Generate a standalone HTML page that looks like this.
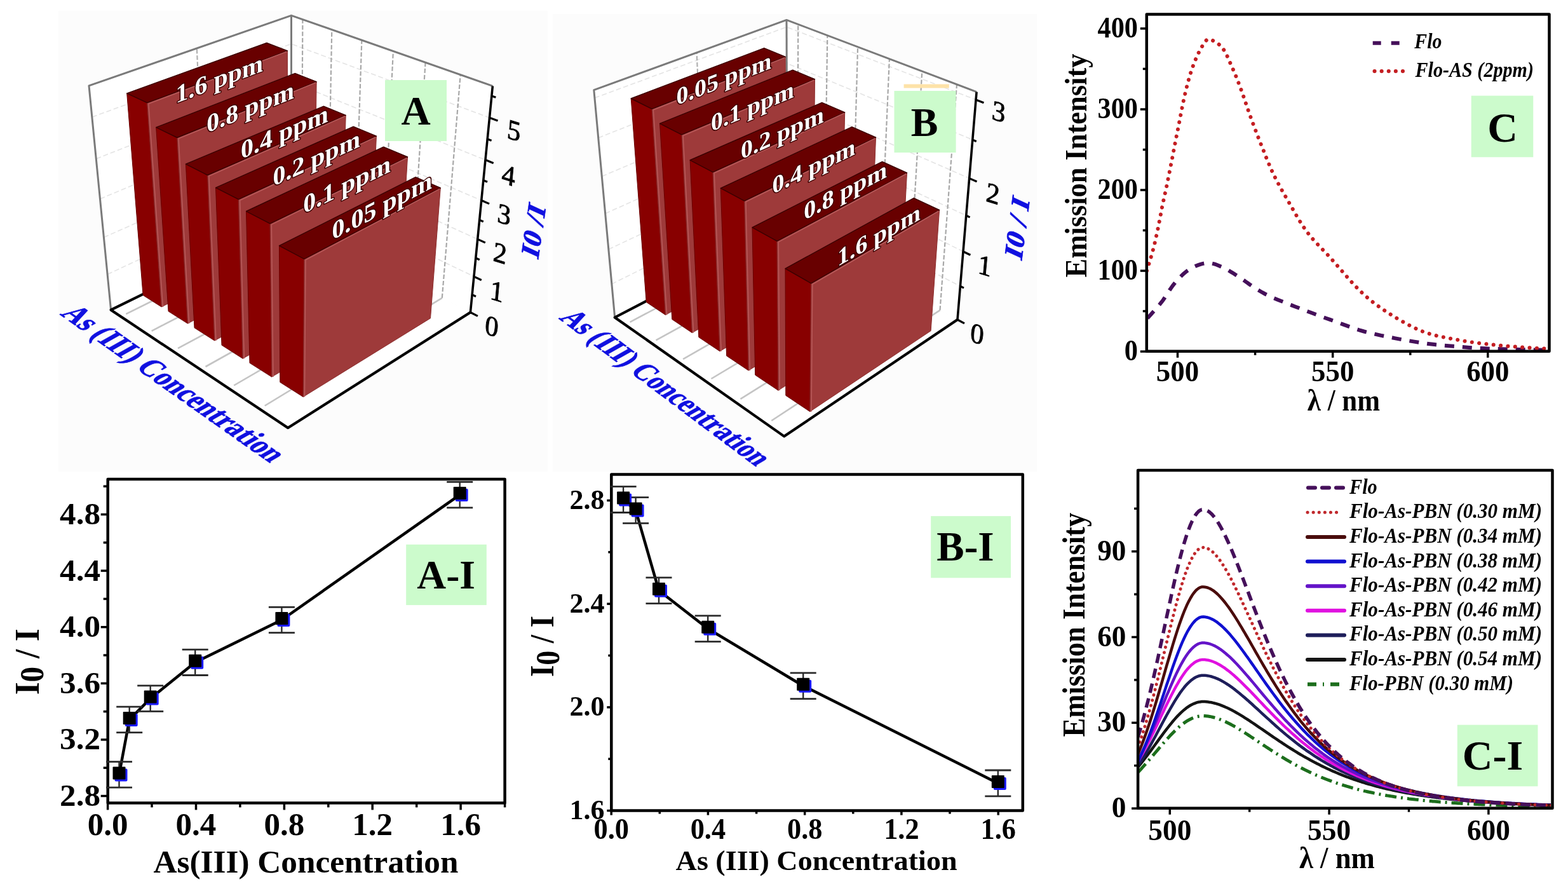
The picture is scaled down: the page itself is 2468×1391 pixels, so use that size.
<!DOCTYPE html>
<html><head><meta charset="utf-8"><title>Figure</title>
<style>html,body{margin:0;padding:0;background:#fff;} svg{display:block;} text{font-family:'Liberation Serif','Times New Roman',serif;}</style>
</head><body>
<svg xmlns="http://www.w3.org/2000/svg" width="2468" height="1391" viewBox="0 0 2468 1391">
<rect x="0" y="0" width="2468" height="1391" fill="#fff"/>
<line x1="158.7" y1="1252.5" x2="169.7" y2="1252.5" stroke="#000" stroke-width="3.5"/>
<line x1="162.7" y1="1208.2" x2="169.7" y2="1208.2" stroke="#000" stroke-width="3.5"/>
<line x1="158.7" y1="1163.9" x2="169.7" y2="1163.9" stroke="#000" stroke-width="3.5"/>
<line x1="162.7" y1="1119.6" x2="169.7" y2="1119.6" stroke="#000" stroke-width="3.5"/>
<line x1="158.7" y1="1075.3" x2="169.7" y2="1075.3" stroke="#000" stroke-width="3.5"/>
<line x1="162.7" y1="1031.0" x2="169.7" y2="1031.0" stroke="#000" stroke-width="3.5"/>
<line x1="158.7" y1="986.7" x2="169.7" y2="986.7" stroke="#000" stroke-width="3.5"/>
<line x1="162.7" y1="942.4" x2="169.7" y2="942.4" stroke="#000" stroke-width="3.5"/>
<line x1="158.7" y1="898.1" x2="169.7" y2="898.1" stroke="#000" stroke-width="3.5"/>
<line x1="162.7" y1="853.8" x2="169.7" y2="853.8" stroke="#000" stroke-width="3.5"/>
<line x1="158.7" y1="809.5" x2="169.7" y2="809.5" stroke="#000" stroke-width="3.5"/>
<line x1="162.7" y1="765.2" x2="169.7" y2="765.2" stroke="#000" stroke-width="3.5"/>
<line x1="169.6" y1="1263.4" x2="169.6" y2="1274.4" stroke="#000" stroke-width="3.5"/>
<line x1="239.0" y1="1263.4" x2="239.0" y2="1270.4" stroke="#000" stroke-width="3.5"/>
<line x1="308.5" y1="1263.4" x2="308.5" y2="1274.4" stroke="#000" stroke-width="3.5"/>
<line x1="377.9" y1="1263.4" x2="377.9" y2="1270.4" stroke="#000" stroke-width="3.5"/>
<line x1="447.4" y1="1263.4" x2="447.4" y2="1274.4" stroke="#000" stroke-width="3.5"/>
<line x1="516.8" y1="1263.4" x2="516.8" y2="1270.4" stroke="#000" stroke-width="3.5"/>
<line x1="586.2" y1="1263.4" x2="586.2" y2="1274.4" stroke="#000" stroke-width="3.5"/>
<line x1="655.7" y1="1263.4" x2="655.7" y2="1270.4" stroke="#000" stroke-width="3.5"/>
<line x1="725.1" y1="1263.4" x2="725.1" y2="1274.4" stroke="#000" stroke-width="3.5"/>
<line x1="794.6" y1="1263.4" x2="794.6" y2="1270.4" stroke="#000" stroke-width="3.5"/>
<rect x="169.7" y="754.0" width="624.9" height="509.4" fill="none" stroke="#000" stroke-width="4.5" stroke-linejoin="round"/>
<polyline points="187.5,1218.9 203.7,1132.4 236.7,1099.1 307.2,1042.3 443.4,975.5 723.7,778.6" fill="none" stroke="#000" stroke-width="4.5" stroke-linejoin="round"/>
<line x1="187.5" y1="1198.7" x2="187.5" y2="1239.1" stroke="#2a2a2a" stroke-width="2.4"/>
<line x1="167.0" y1="1198.7" x2="208.0" y2="1198.7" stroke="#2a2a2a" stroke-width="2.8"/>
<line x1="167.0" y1="1239.1" x2="208.0" y2="1239.1" stroke="#2a2a2a" stroke-width="2.8"/>
<line x1="203.7" y1="1112.2" x2="203.7" y2="1152.6" stroke="#2a2a2a" stroke-width="2.4"/>
<line x1="183.2" y1="1112.2" x2="224.2" y2="1112.2" stroke="#2a2a2a" stroke-width="2.8"/>
<line x1="183.2" y1="1152.6" x2="224.2" y2="1152.6" stroke="#2a2a2a" stroke-width="2.8"/>
<line x1="236.7" y1="1078.9" x2="236.7" y2="1119.3" stroke="#2a2a2a" stroke-width="2.4"/>
<line x1="216.2" y1="1078.9" x2="257.2" y2="1078.9" stroke="#2a2a2a" stroke-width="2.8"/>
<line x1="216.2" y1="1119.3" x2="257.2" y2="1119.3" stroke="#2a2a2a" stroke-width="2.8"/>
<line x1="307.2" y1="1022.1" x2="307.2" y2="1062.5" stroke="#2a2a2a" stroke-width="2.4"/>
<line x1="286.7" y1="1022.1" x2="327.7" y2="1022.1" stroke="#2a2a2a" stroke-width="2.8"/>
<line x1="286.7" y1="1062.5" x2="327.7" y2="1062.5" stroke="#2a2a2a" stroke-width="2.8"/>
<line x1="443.4" y1="955.3" x2="443.4" y2="995.7" stroke="#2a2a2a" stroke-width="2.4"/>
<line x1="422.9" y1="955.3" x2="463.9" y2="955.3" stroke="#2a2a2a" stroke-width="2.8"/>
<line x1="422.9" y1="995.7" x2="463.9" y2="995.7" stroke="#2a2a2a" stroke-width="2.8"/>
<line x1="723.7" y1="758.4" x2="723.7" y2="798.8" stroke="#2a2a2a" stroke-width="2.4"/>
<line x1="703.2" y1="758.4" x2="744.2" y2="758.4" stroke="#2a2a2a" stroke-width="2.8"/>
<line x1="703.2" y1="798.8" x2="744.2" y2="798.8" stroke="#2a2a2a" stroke-width="2.8"/>
<rect x="180.5" y="1209.4" width="20" height="20" rx="2" fill="#1a1aff"/>
<rect x="177.5" y="1206.4" width="20" height="20" rx="1" fill="#000"/>
<rect x="196.7" y="1122.9" width="20" height="20" rx="2" fill="#1a1aff"/>
<rect x="193.7" y="1119.9" width="20" height="20" rx="1" fill="#000"/>
<rect x="229.7" y="1089.6" width="20" height="20" rx="2" fill="#1a1aff"/>
<rect x="226.7" y="1086.6" width="20" height="20" rx="1" fill="#000"/>
<rect x="300.2" y="1032.8" width="20" height="20" rx="2" fill="#1a1aff"/>
<rect x="297.2" y="1029.8" width="20" height="20" rx="1" fill="#000"/>
<rect x="436.4" y="966.0" width="20" height="20" rx="2" fill="#1a1aff"/>
<rect x="433.4" y="963.0" width="20" height="20" rx="1" fill="#000"/>
<rect x="716.7" y="769.1" width="20" height="20" rx="2" fill="#1a1aff"/>
<rect x="713.7" y="766.1" width="20" height="20" rx="1" fill="#000"/>
<text x="158.0" y="1268.0" font-size="48" font-weight="bold" font-style="normal" fill="#000" text-anchor="end" textLength="63.9" lengthAdjust="spacingAndGlyphs">2.8</text>
<text x="158.0" y="1179.4" font-size="48" font-weight="bold" font-style="normal" fill="#000" text-anchor="end" textLength="63.9" lengthAdjust="spacingAndGlyphs">3.2</text>
<text x="158.0" y="1090.8" font-size="48" font-weight="bold" font-style="normal" fill="#000" text-anchor="end" textLength="63.9" lengthAdjust="spacingAndGlyphs">3.6</text>
<text x="158.0" y="1002.2" font-size="48" font-weight="bold" font-style="normal" fill="#000" text-anchor="end" textLength="63.9" lengthAdjust="spacingAndGlyphs">4.0</text>
<text x="158.0" y="913.6" font-size="48" font-weight="bold" font-style="normal" fill="#000" text-anchor="end" textLength="63.9" lengthAdjust="spacingAndGlyphs">4.4</text>
<text x="158.0" y="825.0" font-size="48" font-weight="bold" font-style="normal" fill="#000" text-anchor="end" textLength="63.9" lengthAdjust="spacingAndGlyphs">4.8</text>
<text x="169.6" y="1313.8" font-size="50" font-weight="bold" font-style="normal" fill="#000" text-anchor="middle" textLength="63.8" lengthAdjust="spacingAndGlyphs">0.0</text>
<text x="308.5" y="1313.8" font-size="50" font-weight="bold" font-style="normal" fill="#000" text-anchor="middle" textLength="63.8" lengthAdjust="spacingAndGlyphs">0.4</text>
<text x="447.4" y="1313.8" font-size="50" font-weight="bold" font-style="normal" fill="#000" text-anchor="middle" textLength="63.8" lengthAdjust="spacingAndGlyphs">0.8</text>
<text x="586.2" y="1313.8" font-size="50" font-weight="bold" font-style="normal" fill="#000" text-anchor="middle" textLength="63.8" lengthAdjust="spacingAndGlyphs">1.2</text>
<text x="725.1" y="1313.8" font-size="50" font-weight="bold" font-style="normal" fill="#000" text-anchor="middle" textLength="63.8" lengthAdjust="spacingAndGlyphs">1.6</text>
<rect x="639.2" y="856.8" width="126.6" height="95.3" fill="#ccfbcc" stroke="none" stroke-width="0"/>
<text x="702.2" y="925.5" font-size="63.5" font-weight="bold" font-style="normal" fill="#000" text-anchor="middle">A-I</text>
<text x="241.5" y="1372.9" font-size="50" font-weight="bold" font-style="normal" fill="#000" textLength="480.0" lengthAdjust="spacingAndGlyphs">As(III) Concentration</text>
<text transform="translate(61,1093.3) rotate(-90)" font-size="54" font-weight="bold" style="font-family:'Liberation Serif','Times New Roman',serif" textLength="104" lengthAdjust="spacingAndGlyphs">I<tspan font-size="52" dy="7">0</tspan><tspan dy="-7"> / I</tspan></text>
<line x1="955.3" y1="1275.6" x2="962.3" y2="1275.6" stroke="#000" stroke-width="3.5"/>
<line x1="957.3" y1="1194.2" x2="962.3" y2="1194.2" stroke="#000" stroke-width="3.5"/>
<line x1="955.3" y1="1112.9" x2="962.3" y2="1112.9" stroke="#000" stroke-width="3.5"/>
<line x1="957.3" y1="1031.5" x2="962.3" y2="1031.5" stroke="#000" stroke-width="3.5"/>
<line x1="955.3" y1="950.2" x2="962.3" y2="950.2" stroke="#000" stroke-width="3.5"/>
<line x1="957.3" y1="868.8" x2="962.3" y2="868.8" stroke="#000" stroke-width="3.5"/>
<line x1="955.3" y1="787.5" x2="962.3" y2="787.5" stroke="#000" stroke-width="3.5"/>
<line x1="962.2" y1="1275.6" x2="962.2" y2="1282.6" stroke="#000" stroke-width="3.5"/>
<line x1="1038.3" y1="1275.6" x2="1038.3" y2="1280.6" stroke="#000" stroke-width="3.5"/>
<line x1="1114.4" y1="1275.6" x2="1114.4" y2="1282.6" stroke="#000" stroke-width="3.5"/>
<line x1="1190.6" y1="1275.6" x2="1190.6" y2="1280.6" stroke="#000" stroke-width="3.5"/>
<line x1="1266.7" y1="1275.6" x2="1266.7" y2="1282.6" stroke="#000" stroke-width="3.5"/>
<line x1="1342.8" y1="1275.6" x2="1342.8" y2="1280.6" stroke="#000" stroke-width="3.5"/>
<line x1="1418.9" y1="1275.6" x2="1418.9" y2="1282.6" stroke="#000" stroke-width="3.5"/>
<line x1="1495.0" y1="1275.6" x2="1495.0" y2="1280.6" stroke="#000" stroke-width="3.5"/>
<line x1="1571.2" y1="1275.6" x2="1571.2" y2="1282.6" stroke="#000" stroke-width="3.5"/>
<rect x="962.3" y="746.5" width="647.5" height="529.1" fill="none" stroke="#000" stroke-width="4.5" stroke-linejoin="round"/>
<polyline points="981.1,786.1 1000.6,803.0 1037.0,929.2 1114.2,989.2 1264.2,1079.2 1570.8,1232.4" fill="none" stroke="#000" stroke-width="4.5" stroke-linejoin="round"/>
<line x1="981.1" y1="765.7" x2="981.1" y2="806.5" stroke="#2a2a2a" stroke-width="2.4"/>
<line x1="960.6" y1="765.7" x2="1001.6" y2="765.7" stroke="#2a2a2a" stroke-width="2.8"/>
<line x1="960.6" y1="806.5" x2="1001.6" y2="806.5" stroke="#2a2a2a" stroke-width="2.8"/>
<line x1="1000.6" y1="782.6" x2="1000.6" y2="823.4" stroke="#2a2a2a" stroke-width="2.4"/>
<line x1="980.1" y1="782.6" x2="1021.1" y2="782.6" stroke="#2a2a2a" stroke-width="2.8"/>
<line x1="980.1" y1="823.4" x2="1021.1" y2="823.4" stroke="#2a2a2a" stroke-width="2.8"/>
<line x1="1037.0" y1="908.8" x2="1037.0" y2="949.6" stroke="#2a2a2a" stroke-width="2.4"/>
<line x1="1016.5" y1="908.8" x2="1057.5" y2="908.8" stroke="#2a2a2a" stroke-width="2.8"/>
<line x1="1016.5" y1="949.6" x2="1057.5" y2="949.6" stroke="#2a2a2a" stroke-width="2.8"/>
<line x1="1114.2" y1="968.8" x2="1114.2" y2="1009.6" stroke="#2a2a2a" stroke-width="2.4"/>
<line x1="1093.7" y1="968.8" x2="1134.7" y2="968.8" stroke="#2a2a2a" stroke-width="2.8"/>
<line x1="1093.7" y1="1009.6" x2="1134.7" y2="1009.6" stroke="#2a2a2a" stroke-width="2.8"/>
<line x1="1264.2" y1="1058.8" x2="1264.2" y2="1099.6" stroke="#2a2a2a" stroke-width="2.4"/>
<line x1="1243.7" y1="1058.8" x2="1284.7" y2="1058.8" stroke="#2a2a2a" stroke-width="2.8"/>
<line x1="1243.7" y1="1099.6" x2="1284.7" y2="1099.6" stroke="#2a2a2a" stroke-width="2.8"/>
<line x1="1570.8" y1="1212.0" x2="1570.8" y2="1252.8" stroke="#2a2a2a" stroke-width="2.4"/>
<line x1="1550.3" y1="1212.0" x2="1591.3" y2="1212.0" stroke="#2a2a2a" stroke-width="2.8"/>
<line x1="1550.3" y1="1252.8" x2="1591.3" y2="1252.8" stroke="#2a2a2a" stroke-width="2.8"/>
<rect x="974.1" y="776.6" width="20" height="20" rx="2" fill="#1a1aff"/>
<rect x="971.1" y="773.6" width="20" height="20" rx="1" fill="#000"/>
<rect x="993.6" y="793.5" width="20" height="20" rx="2" fill="#1a1aff"/>
<rect x="990.6" y="790.5" width="20" height="20" rx="1" fill="#000"/>
<rect x="1030.0" y="919.7" width="20" height="20" rx="2" fill="#1a1aff"/>
<rect x="1027.0" y="916.7" width="20" height="20" rx="1" fill="#000"/>
<rect x="1107.2" y="979.7" width="20" height="20" rx="2" fill="#1a1aff"/>
<rect x="1104.2" y="976.7" width="20" height="20" rx="1" fill="#000"/>
<rect x="1257.2" y="1069.7" width="20" height="20" rx="2" fill="#1a1aff"/>
<rect x="1254.2" y="1066.7" width="20" height="20" rx="1" fill="#000"/>
<rect x="1563.8" y="1222.9" width="20" height="20" rx="2" fill="#1a1aff"/>
<rect x="1560.8" y="1219.9" width="20" height="20" rx="1" fill="#000"/>
<text x="951.5" y="1289.0" font-size="44" font-weight="bold" font-style="normal" fill="#000" text-anchor="end" textLength="55.0" lengthAdjust="spacingAndGlyphs">1.6</text>
<text x="951.5" y="1126.3" font-size="44" font-weight="bold" font-style="normal" fill="#000" text-anchor="end" textLength="55.0" lengthAdjust="spacingAndGlyphs">2.0</text>
<text x="951.5" y="963.6" font-size="44" font-weight="bold" font-style="normal" fill="#000" text-anchor="end" textLength="55.0" lengthAdjust="spacingAndGlyphs">2.4</text>
<text x="951.5" y="800.9" font-size="44" font-weight="bold" font-style="normal" fill="#000" text-anchor="end" textLength="55.0" lengthAdjust="spacingAndGlyphs">2.8</text>
<text x="962.2" y="1320.3" font-size="47" font-weight="bold" font-style="normal" fill="#000" text-anchor="middle" textLength="55.5" lengthAdjust="spacingAndGlyphs">0.0</text>
<text x="1114.4" y="1320.3" font-size="47" font-weight="bold" font-style="normal" fill="#000" text-anchor="middle" textLength="55.5" lengthAdjust="spacingAndGlyphs">0.4</text>
<text x="1266.7" y="1320.3" font-size="47" font-weight="bold" font-style="normal" fill="#000" text-anchor="middle" textLength="55.5" lengthAdjust="spacingAndGlyphs">0.8</text>
<text x="1418.9" y="1320.3" font-size="47" font-weight="bold" font-style="normal" fill="#000" text-anchor="middle" textLength="55.5" lengthAdjust="spacingAndGlyphs">1.2</text>
<text x="1571.2" y="1320.3" font-size="47" font-weight="bold" font-style="normal" fill="#000" text-anchor="middle" textLength="55.5" lengthAdjust="spacingAndGlyphs">1.6</text>
<rect x="1465.2" y="812.1" width="125.8" height="97.2" fill="#ccfbcc" stroke="none" stroke-width="0"/>
<text x="1519.5" y="881.6" font-size="65" font-weight="bold" font-style="normal" fill="#000" text-anchor="middle">B-I</text>
<text x="1063.6" y="1368.6" font-size="45" font-weight="bold" font-style="normal" fill="#000" textLength="443.0" lengthAdjust="spacingAndGlyphs">As (III) Concentration</text>
<text transform="translate(870.5,1065) rotate(-90)" font-size="53" font-weight="bold" style="font-family:'Liberation Serif','Times New Roman',serif" textLength="96" lengthAdjust="spacingAndGlyphs">I<tspan font-size="52" dy="9">0</tspan><tspan dy="-9"> / I</tspan></text>
<line x1="1794.8" y1="553.1" x2="1804.8" y2="553.1" stroke="#000" stroke-width="3.5"/>
<line x1="1798.8" y1="489.6" x2="1804.8" y2="489.6" stroke="#000" stroke-width="3.5"/>
<line x1="1794.8" y1="426.1" x2="1804.8" y2="426.1" stroke="#000" stroke-width="3.5"/>
<line x1="1798.8" y1="362.5" x2="1804.8" y2="362.5" stroke="#000" stroke-width="3.5"/>
<line x1="1794.8" y1="299.0" x2="1804.8" y2="299.0" stroke="#000" stroke-width="3.5"/>
<line x1="1798.8" y1="235.5" x2="1804.8" y2="235.5" stroke="#000" stroke-width="3.5"/>
<line x1="1794.8" y1="172.0" x2="1804.8" y2="172.0" stroke="#000" stroke-width="3.5"/>
<line x1="1798.8" y1="108.4" x2="1804.8" y2="108.4" stroke="#000" stroke-width="3.5"/>
<line x1="1794.8" y1="44.9" x2="1804.8" y2="44.9" stroke="#000" stroke-width="3.5"/>
<line x1="1853.5" y1="552.8" x2="1853.5" y2="562.8" stroke="#000" stroke-width="3.5"/>
<line x1="1975.6" y1="552.8" x2="1975.6" y2="558.8" stroke="#000" stroke-width="3.5"/>
<line x1="2097.7" y1="552.8" x2="2097.7" y2="562.8" stroke="#000" stroke-width="3.5"/>
<line x1="2219.8" y1="552.8" x2="2219.8" y2="558.8" stroke="#000" stroke-width="3.5"/>
<line x1="2341.8" y1="552.8" x2="2341.8" y2="562.8" stroke="#000" stroke-width="3.5"/>
<clipPath id="clipC"><rect x="1806" y="24" width="631" height="527"/></clipPath>
<g clip-path="url(#clipC)">
<path d="M1806.1,500.8 L1807.8,498.8 L1810.2,496.3 L1812.9,493.2 L1816.0,489.8 L1819.2,486.2 L1822.5,482.4 L1825.6,478.7 L1828.4,475.2 L1831.0,471.7 L1833.5,468.0 L1836.0,464.3 L1838.4,460.5 L1840.8,456.7 L1843.3,453.1 L1845.8,449.5 L1848.5,446.2 L1851.2,443.0 L1854.0,439.9 L1856.8,436.8 L1859.7,433.9 L1862.7,431.1 L1865.7,428.5 L1868.7,426.1 L1871.9,423.9 L1875.2,421.9 L1878.6,420.1 L1882.2,418.5 L1885.8,417.1 L1889.4,415.9 L1893.0,414.9 L1896.4,414.3 L1899.8,413.9 L1903.0,413.9 L1906.2,414.2 L1909.2,414.9 L1912.3,415.7 L1915.3,416.8 L1918.3,418.0 L1921.3,419.3 L1924.3,420.6 L1927.4,422.0 L1930.4,423.6 L1933.5,425.3 L1936.5,427.2 L1939.6,429.1 L1942.7,431.1 L1945.7,433.0 L1948.8,435.0 L1951.9,437.0 L1954.9,439.1 L1958.0,441.2 L1961.0,443.4 L1964.1,445.5 L1967.1,447.7 L1970.3,449.8 L1973.4,451.8 L1976.4,453.7 L1979.2,455.5 L1981.9,457.2 L1984.8,459.0 L1987.8,460.7 L1991.1,462.5 L1995.0,464.5 L1999.5,466.6 L2004.8,468.9 L2010.7,471.4 L2017.2,474.0 L2024.0,476.7 L2030.9,479.5 L2037.9,482.2 L2044.8,484.8 L2051.3,487.3 L2057.5,489.7 L2063.7,492.0 L2069.7,494.3 L2075.7,496.6 L2081.8,498.8 L2087.9,501.0 L2094.1,503.2 L2100.5,505.5 L2106.9,507.8 L2113.1,510.1 L2119.4,512.4 L2125.8,514.7 L2132.4,517.0 L2139.4,519.3 L2146.8,521.5 L2154.9,523.6 L2163.9,525.7 L2173.7,527.9 L2184.2,530.0 L2195.0,532.1 L2205.7,534.1 L2216.2,536.0 L2226.1,537.6 L2235.1,539.1 L2243.2,540.3 L2250.7,541.3 L2257.7,542.1 L2264.4,542.8 L2270.8,543.4 L2277.1,543.9 L2283.5,544.4 L2290.0,545.0 L2296.2,545.6 L2301.9,546.1 L2307.4,546.5 L2312.9,547.0 L2318.7,547.4 L2325.1,547.8 L2332.5,548.1 L2341.0,548.5 L2351.6,548.9 L2364.3,549.3 L2378.3,549.6 L2392.7,550.0 L2406.7,550.3 L2419.5,550.6 L2430.2,550.8 L2438.0,551.0" fill="none" stroke="#45105a" stroke-width="6" stroke-dasharray="15 13" />
<path d="M1805.0,426.1 L1805.8,423.5 L1806.8,420.1 L1808.1,416.1 L1809.5,411.6 L1811.0,406.8 L1812.4,401.9 L1813.8,397.2 L1815.0,392.7 L1816.1,388.4 L1817.2,384.1 L1818.2,379.8 L1819.2,375.5 L1820.1,371.1 L1821.1,366.8 L1822.0,362.4 L1822.9,358.1 L1823.8,353.8 L1824.6,349.4 L1825.5,345.1 L1826.3,340.8 L1827.1,336.5 L1827.9,332.2 L1828.7,327.9 L1829.6,323.6 L1830.5,319.4 L1831.4,315.1 L1832.3,310.9 L1833.3,306.7 L1834.2,302.5 L1835.1,298.4 L1836.0,294.2 L1836.9,290.0 L1837.7,285.9 L1838.5,281.9 L1839.3,278.0 L1840.1,274.1 L1840.9,270.1 L1841.7,265.9 L1842.6,261.4 L1843.5,256.7 L1844.5,251.8 L1845.5,246.7 L1846.5,241.5 L1847.5,236.1 L1848.6,230.5 L1849.8,224.5 L1851.0,218.2 L1852.4,211.4 L1853.9,203.9 L1855.5,195.7 L1857.2,187.0 L1858.9,178.0 L1860.7,169.0 L1862.5,160.2 L1864.3,152.0 L1866.0,144.5 L1867.7,137.7 L1869.3,131.3 L1871.0,125.2 L1872.6,119.5 L1874.3,114.1 L1876.0,108.8 L1877.8,103.8 L1879.6,98.9 L1881.6,94.1 L1883.7,89.3 L1885.8,84.7 L1888.0,80.3 L1890.2,76.3 L1892.3,72.6 L1894.2,69.5 L1896.0,66.9 L1897.5,64.9 L1898.7,63.5 L1899.8,62.5 L1900.8,61.9 L1901.8,61.7 L1902.9,61.8 L1904.2,62.1 L1905.8,62.6 L1907.7,63.3 L1909.9,64.2 L1912.2,65.4 L1914.6,66.9 L1917.1,68.6 L1919.6,70.7 L1922.0,73.0 L1924.2,75.6 L1926.3,78.6 L1928.3,82.0 L1930.3,85.8 L1932.3,89.8 L1934.2,94.0 L1936.0,98.3 L1937.9,102.6 L1939.7,106.7 L1941.5,110.7 L1943.2,114.7 L1944.9,118.7 L1946.5,122.8 L1948.1,127.0 L1949.8,131.3 L1951.5,135.8 L1953.3,140.6 L1955.1,145.7 L1957.0,151.0 L1958.9,156.5 L1960.8,162.2 L1962.8,167.9 L1964.7,173.7 L1966.8,179.5 L1968.8,185.2 L1970.9,190.9 L1973.0,196.6 L1975.2,202.3 L1977.3,208.0 L1979.5,213.8 L1981.8,219.5 L1984.0,225.2 L1986.3,230.9 L1988.6,236.5 L1990.8,242.2 L1993.0,247.8 L1995.3,253.3 L1997.6,258.9 L2000.0,264.5 L2002.5,270.1 L2005.2,275.8 L2008.1,281.5 L2011.1,287.2 L2014.2,293.0 L2017.4,298.8 L2020.7,304.6 L2024.0,310.3 L2027.3,316.0 L2030.6,321.7 L2033.8,327.3 L2037.0,332.9 L2040.2,338.5 L2043.4,344.0 L2046.8,349.5 L2050.2,354.9 L2053.9,360.3 L2057.8,365.7 L2061.9,370.9 L2066.2,376.0 L2070.7,381.0 L2075.3,385.9 L2080.1,390.9 L2085.0,396.1 L2090.1,401.4 L2095.3,407.1 L2100.7,413.2 L2106.4,419.8 L2112.3,426.6 L2118.4,433.6 L2124.4,440.4 L2130.4,447.1 L2136.3,453.3 L2141.9,458.9 L2147.2,463.9 L2152.3,468.4 L2157.2,472.6 L2162.1,476.4 L2167.1,480.1 L2172.2,483.8 L2177.5,487.4 L2183.3,491.2 L2189.5,495.2 L2196.0,499.2 L2202.8,503.3 L2209.8,507.3 L2216.9,511.2 L2223.9,514.8 L2230.9,518.1 L2237.7,521.0 L2244.3,523.5 L2251.0,525.6 L2257.5,527.3 L2264.1,528.9 L2270.6,530.3 L2277.1,531.5 L2283.5,532.8 L2290.0,534.0 L2296.5,535.2 L2302.9,536.3 L2309.3,537.3 L2315.7,538.3 L2322.1,539.1 L2328.4,540.0 L2334.7,540.7 L2341.0,541.5 L2347.2,542.2 L2353.4,542.9 L2359.6,543.5 L2365.7,544.0 L2371.8,544.6 L2377.9,545.1 L2383.9,545.5 L2390.0,546.0 L2396.4,546.5 L2403.2,546.9 L2410.2,547.4 L2417.1,547.8 L2423.6,548.2 L2429.4,548.5 L2434.3,548.8 L2438.0,549.0" fill="none" stroke="#c41e22" stroke-width="6" stroke-dasharray="0.1 11.3" stroke-linecap="round"/>
</g>
<rect x="1804.8" y="22.4" width="633.7" height="530.4" fill="none" stroke="#000" stroke-width="4.5" stroke-linejoin="round"/>
<text x="1791.0" y="566.9" font-size="46" font-weight="bold" font-style="normal" fill="#000" text-anchor="end" textLength="21.2" lengthAdjust="spacingAndGlyphs">0</text>
<text x="1791.0" y="439.9" font-size="46" font-weight="bold" font-style="normal" fill="#000" text-anchor="end" textLength="63.5" lengthAdjust="spacingAndGlyphs">100</text>
<text x="1791.0" y="312.8" font-size="46" font-weight="bold" font-style="normal" fill="#000" text-anchor="end" textLength="63.5" lengthAdjust="spacingAndGlyphs">200</text>
<text x="1791.0" y="185.8" font-size="46" font-weight="bold" font-style="normal" fill="#000" text-anchor="end" textLength="63.5" lengthAdjust="spacingAndGlyphs">300</text>
<text x="1791.0" y="58.7" font-size="46" font-weight="bold" font-style="normal" fill="#000" text-anchor="end" textLength="63.5" lengthAdjust="spacingAndGlyphs">400</text>
<text x="1853.5" y="600.3" font-size="47" font-weight="bold" font-style="normal" fill="#000" text-anchor="middle" textLength="67.3" lengthAdjust="spacingAndGlyphs">500</text>
<text x="2097.7" y="600.3" font-size="47" font-weight="bold" font-style="normal" fill="#000" text-anchor="middle" textLength="67.3" lengthAdjust="spacingAndGlyphs">550</text>
<text x="2341.8" y="600.3" font-size="47" font-weight="bold" font-style="normal" fill="#000" text-anchor="middle" textLength="67.3" lengthAdjust="spacingAndGlyphs">600</text>
<line x1="2160.7" y1="67.7" x2="2203.2" y2="67.7" stroke="#45105a" stroke-width="6" stroke-dasharray="13 16"/>
<line x1="2163.5" y1="112.0" x2="2212.3" y2="112.0" stroke="#c41e22" stroke-width="6" stroke-dasharray="0.1 11" stroke-linecap="round"/>
<text x="2226.3" y="76.2" font-size="33" font-weight="bold" font-style="italic" fill="#000" textLength="43.0" lengthAdjust="spacingAndGlyphs">Flo</text>
<text x="2227.5" y="120.6" font-size="33" font-weight="bold" font-style="italic" fill="#000" textLength="186.5" lengthAdjust="spacingAndGlyphs">Flo-AS (2ppm)</text>
<rect x="2315.7" y="150.6" width="97.6" height="96.7" fill="#ccfbcc" stroke="none" stroke-width="0"/>
<text x="2365.0" y="222.5" font-size="66" font-weight="bold" font-style="normal" fill="#000" text-anchor="middle">C</text>
<text x="2057.8" y="646.2" font-size="48" font-weight="bold" font-style="normal" fill="#000" textLength="114.3" lengthAdjust="spacingAndGlyphs">λ / nm</text>
<text transform="translate(1710,436.5) rotate(-90)" font-size="49" font-weight="bold" textLength="352" lengthAdjust="spacingAndGlyphs">Emission Intensity</text>
<line x1="1781.1" y1="1272.1" x2="1791.1" y2="1272.1" stroke="#000" stroke-width="3.5"/>
<line x1="1785.1" y1="1204.7" x2="1791.1" y2="1204.7" stroke="#000" stroke-width="3.5"/>
<line x1="1781.1" y1="1137.3" x2="1791.1" y2="1137.3" stroke="#000" stroke-width="3.5"/>
<line x1="1785.1" y1="1069.9" x2="1791.1" y2="1069.9" stroke="#000" stroke-width="3.5"/>
<line x1="1781.1" y1="1002.5" x2="1791.1" y2="1002.5" stroke="#000" stroke-width="3.5"/>
<line x1="1785.1" y1="935.1" x2="1791.1" y2="935.1" stroke="#000" stroke-width="3.5"/>
<line x1="1781.1" y1="867.7" x2="1791.1" y2="867.7" stroke="#000" stroke-width="3.5"/>
<line x1="1785.1" y1="800.3" x2="1791.1" y2="800.3" stroke="#000" stroke-width="3.5"/>
<line x1="1841.3" y1="1271.7" x2="1841.3" y2="1281.7" stroke="#000" stroke-width="3.5"/>
<line x1="1966.7" y1="1271.7" x2="1966.7" y2="1277.7" stroke="#000" stroke-width="3.5"/>
<line x1="2092.1" y1="1271.7" x2="2092.1" y2="1281.7" stroke="#000" stroke-width="3.5"/>
<line x1="2217.5" y1="1271.7" x2="2217.5" y2="1277.7" stroke="#000" stroke-width="3.5"/>
<line x1="2342.9" y1="1271.7" x2="2342.9" y2="1281.7" stroke="#000" stroke-width="3.5"/>
<clipPath id="clipD"><rect x="1793" y="742" width="648" height="528"/></clipPath>
<g clip-path="url(#clipD)">
<path d="M1791.1,1215.3 L1793.6,1212.7 L1796.1,1210.0 L1798.6,1207.2 L1801.1,1204.4 L1803.6,1201.6 L1806.1,1198.7 L1808.7,1195.8 L1811.2,1192.9 L1813.7,1190.0 L1816.2,1187.0 L1818.7,1184.0 L1821.2,1181.1 L1823.7,1178.1 L1826.2,1175.1 L1828.7,1172.2 L1831.2,1169.3 L1833.7,1166.4 L1836.2,1163.6 L1838.8,1160.9 L1841.3,1158.1 L1843.8,1155.5 L1846.3,1152.9 L1848.8,1150.4 L1851.3,1148.0 L1853.8,1145.7 L1856.3,1143.5 L1858.8,1141.4 L1861.3,1139.4 L1863.8,1137.6 L1866.3,1135.8 L1868.8,1134.2 L1871.4,1132.8 L1873.9,1131.5 L1876.4,1130.3 L1878.9,1129.3 L1881.4,1128.4 L1883.9,1127.7 L1886.4,1127.2 L1888.9,1126.8 L1891.4,1126.6 L1893.9,1126.5 L1896.4,1126.6 L1898.9,1126.8 L1901.5,1127.1 L1904.0,1127.4 L1906.5,1127.9 L1909.0,1128.5 L1911.5,1129.1 L1914.0,1129.8 L1916.5,1130.7 L1919.0,1131.5 L1921.5,1132.5 L1924.0,1133.5 L1926.5,1134.6 L1929.0,1135.7 L1931.5,1136.9 L1934.1,1138.2 L1936.6,1139.5 L1939.1,1140.9 L1941.6,1142.2 L1944.1,1143.7 L1946.6,1145.1 L1949.1,1146.6 L1951.6,1148.2 L1954.1,1149.7 L1956.6,1151.3 L1959.1,1152.9 L1961.6,1154.5 L1964.2,1156.2 L1966.7,1157.8 L1969.2,1159.5 L1971.7,1161.1 L1974.2,1162.8 L1976.7,1164.5 L1979.2,1166.2 L1981.7,1167.8 L1984.2,1169.5 L1986.7,1171.2 L1989.2,1172.9 L1991.7,1174.5 L1994.2,1176.2 L1996.8,1177.8 L1999.3,1179.5 L2001.8,1181.1 L2004.3,1182.7 L2006.8,1184.3 L2009.3,1185.9 L2011.8,1187.5 L2014.3,1189.1 L2016.8,1190.6 L2019.3,1192.1 L2021.8,1193.7 L2024.3,1195.2 L2026.9,1196.6 L2029.4,1198.1 L2031.9,1199.5 L2034.4,1200.9 L2036.9,1202.3 L2039.4,1203.7 L2041.9,1205.1 L2044.4,1206.4 L2046.9,1207.7 L2049.4,1209.0 L2051.9,1210.3 L2054.4,1211.6 L2056.9,1212.8 L2059.5,1214.0 L2062.0,1215.2 L2064.5,1216.4 L2067.0,1217.5 L2069.5,1218.6 L2072.0,1219.8 L2074.5,1220.8 L2077.0,1221.9 L2079.5,1223.0 L2082.0,1224.0 L2084.5,1225.0 L2087.0,1226.0 L2089.6,1227.0 L2092.1,1227.9 L2094.6,1228.8 L2097.1,1229.8 L2099.6,1230.7 L2102.1,1231.5 L2104.6,1232.4 L2107.1,1233.2 L2109.6,1234.1 L2112.1,1234.9 L2114.6,1235.7 L2117.1,1236.4 L2119.6,1237.2 L2122.2,1237.9 L2124.7,1238.7 L2127.2,1239.4 L2129.7,1240.1 L2132.2,1240.8 L2134.7,1241.4 L2137.2,1242.1 L2139.7,1242.7 L2142.2,1243.3 L2144.7,1244.0 L2147.2,1244.6 L2149.7,1245.1 L2152.3,1245.7 L2154.8,1246.3 L2157.3,1246.8 L2159.8,1247.3 L2162.3,1247.9 L2164.8,1248.4 L2167.3,1248.9 L2169.8,1249.4 L2172.3,1249.9 L2174.8,1250.3 L2177.3,1250.8 L2179.8,1251.2 L2182.3,1251.7 L2184.9,1252.1 L2187.4,1252.5 L2189.9,1252.9 L2192.4,1253.3 L2194.9,1253.7 L2197.4,1254.1 L2199.9,1254.5 L2202.4,1254.8 L2204.9,1255.2 L2207.4,1255.5 L2209.9,1255.9 L2212.4,1256.2 L2215.0,1256.5 L2217.5,1256.9 L2220.0,1257.2 L2222.5,1257.5 L2225.0,1257.8 L2227.5,1258.1 L2230.0,1258.3 L2232.5,1258.6 L2235.0,1258.9 L2237.5,1259.2 L2240.0,1259.4 L2242.5,1259.7 L2245.0,1259.9 L2247.6,1260.2 L2250.1,1260.4 L2252.6,1260.6 L2255.1,1260.9 L2257.6,1261.1 L2260.1,1261.3 L2262.6,1261.5 L2265.1,1261.7 L2267.6,1261.9 L2270.1,1262.1 L2272.6,1262.3 L2275.1,1262.5 L2277.7,1262.7 L2280.2,1262.9 L2282.7,1263.1 L2285.2,1263.2 L2287.7,1263.4 L2290.2,1263.6 L2292.7,1263.7 L2295.2,1263.9 L2297.7,1264.0 L2300.2,1264.2 L2302.7,1264.3 L2305.2,1264.5 L2307.7,1264.6 L2310.3,1264.8 L2312.8,1264.9 L2315.3,1265.0 L2317.8,1265.2 L2320.3,1265.3 L2322.8,1265.4 L2325.3,1265.6 L2327.8,1265.7 L2330.3,1265.8 L2332.8,1265.9 L2335.3,1266.0 L2337.8,1266.1 L2340.4,1266.2 L2342.9,1266.3 L2345.4,1266.5 L2347.9,1266.6 L2350.4,1266.7 L2352.9,1266.8 L2355.4,1266.8 L2357.9,1266.9 L2360.4,1267.0 L2362.9,1267.1 L2365.4,1267.2 L2367.9,1267.3 L2370.4,1267.4 L2373.0,1267.5 L2375.5,1267.5 L2378.0,1267.6 L2380.5,1267.7 L2383.0,1267.8 L2385.5,1267.9 L2388.0,1267.9 L2390.5,1268.0 L2393.0,1268.1 L2395.5,1268.1 L2398.0,1268.2 L2400.5,1268.3 L2403.1,1268.3 L2405.6,1268.4 L2408.1,1268.5 L2410.6,1268.5 L2413.1,1268.6 L2415.6,1268.6 L2418.1,1268.7 L2420.6,1268.8 L2423.1,1268.8 L2425.6,1268.9 L2428.1,1268.9 L2430.6,1269.0 L2433.1,1269.0 L2435.7,1269.1 L2438.2,1269.1 L2440.7,1269.2 L2443.2,1269.2" fill="none" stroke="#1c6e1c" stroke-width="5" stroke-dasharray="18 7 3 7" stroke-linejoin="round"/>
<path d="M1791.1,1207.3 L1793.6,1204.2 L1796.1,1201.1 L1798.6,1197.9 L1801.1,1194.7 L1803.6,1191.4 L1806.1,1188.1 L1808.7,1184.7 L1811.2,1181.3 L1813.7,1177.9 L1816.2,1174.5 L1818.7,1171.0 L1821.2,1167.6 L1823.7,1164.1 L1826.2,1160.7 L1828.7,1157.3 L1831.2,1153.9 L1833.7,1150.6 L1836.2,1147.3 L1838.8,1144.1 L1841.3,1140.9 L1843.8,1137.8 L1846.3,1134.8 L1848.8,1131.9 L1851.3,1129.1 L1853.8,1126.4 L1856.3,1123.9 L1858.8,1121.4 L1861.3,1119.1 L1863.8,1116.9 L1866.3,1114.9 L1868.8,1113.0 L1871.4,1111.3 L1873.9,1109.8 L1876.4,1108.5 L1878.9,1107.3 L1881.4,1106.3 L1883.9,1105.4 L1886.4,1104.8 L1888.9,1104.4 L1891.4,1104.1 L1893.9,1104.1 L1896.4,1104.1 L1898.9,1104.3 L1901.5,1104.6 L1904.0,1104.9 L1906.5,1105.3 L1909.0,1105.9 L1911.5,1106.5 L1914.0,1107.1 L1916.5,1107.9 L1919.0,1108.7 L1921.5,1109.6 L1924.0,1110.6 L1926.5,1111.6 L1929.0,1112.7 L1931.5,1113.8 L1934.1,1115.0 L1936.6,1116.3 L1939.1,1117.5 L1941.6,1118.9 L1944.1,1120.3 L1946.6,1121.7 L1949.1,1123.1 L1951.6,1124.6 L1954.1,1126.1 L1956.6,1127.7 L1959.1,1129.3 L1961.6,1130.9 L1964.2,1132.5 L1966.7,1134.1 L1969.2,1135.8 L1971.7,1137.5 L1974.2,1139.2 L1976.7,1140.9 L1979.2,1142.6 L1981.7,1144.3 L1984.2,1146.0 L1986.7,1147.7 L1989.2,1149.4 L1991.7,1151.2 L1994.2,1152.9 L1996.8,1154.6 L1999.3,1156.4 L2001.8,1158.1 L2004.3,1159.8 L2006.8,1161.5 L2009.3,1163.2 L2011.8,1164.9 L2014.3,1166.6 L2016.8,1168.2 L2019.3,1169.9 L2021.8,1171.5 L2024.3,1173.2 L2026.9,1174.8 L2029.4,1176.4 L2031.9,1178.0 L2034.4,1179.5 L2036.9,1181.1 L2039.4,1182.6 L2041.9,1184.2 L2044.4,1185.7 L2046.9,1187.2 L2049.4,1188.6 L2051.9,1190.1 L2054.4,1191.5 L2056.9,1192.9 L2059.5,1194.3 L2062.0,1195.7 L2064.5,1197.1 L2067.0,1198.4 L2069.5,1199.8 L2072.0,1201.1 L2074.5,1202.3 L2077.0,1203.6 L2079.5,1204.9 L2082.0,1206.1 L2084.5,1207.3 L2087.0,1208.5 L2089.6,1209.7 L2092.1,1210.8 L2094.6,1212.0 L2097.1,1213.1 L2099.6,1214.2 L2102.1,1215.2 L2104.6,1216.3 L2107.1,1217.4 L2109.6,1218.4 L2112.1,1219.4 L2114.6,1220.4 L2117.1,1221.3 L2119.6,1222.3 L2122.2,1223.2 L2124.7,1224.2 L2127.2,1225.1 L2129.7,1226.0 L2132.2,1226.8 L2134.7,1227.7 L2137.2,1228.5 L2139.7,1229.4 L2142.2,1230.2 L2144.7,1231.0 L2147.2,1231.7 L2149.7,1232.5 L2152.3,1233.3 L2154.8,1234.0 L2157.3,1234.7 L2159.8,1235.4 L2162.3,1236.1 L2164.8,1236.8 L2167.3,1237.5 L2169.8,1238.1 L2172.3,1238.8 L2174.8,1239.4 L2177.3,1240.0 L2179.8,1240.6 L2182.3,1241.2 L2184.9,1241.8 L2187.4,1242.4 L2189.9,1242.9 L2192.4,1243.5 L2194.9,1244.0 L2197.4,1244.6 L2199.9,1245.1 L2202.4,1245.6 L2204.9,1246.1 L2207.4,1246.6 L2209.9,1247.1 L2212.4,1247.5 L2215.0,1248.0 L2217.5,1248.4 L2220.0,1248.9 L2222.5,1249.3 L2225.0,1249.7 L2227.5,1250.1 L2230.0,1250.6 L2232.5,1251.0 L2235.0,1251.3 L2237.5,1251.7 L2240.0,1252.1 L2242.5,1252.5 L2245.0,1252.8 L2247.6,1253.2 L2250.1,1253.5 L2252.6,1253.9 L2255.1,1254.2 L2257.6,1254.5 L2260.1,1254.9 L2262.6,1255.2 L2265.1,1255.5 L2267.6,1255.8 L2270.1,1256.1 L2272.6,1256.4 L2275.1,1256.6 L2277.7,1256.9 L2280.2,1257.2 L2282.7,1257.5 L2285.2,1257.7 L2287.7,1258.0 L2290.2,1258.2 L2292.7,1258.5 L2295.2,1258.7 L2297.7,1259.0 L2300.2,1259.2 L2302.7,1259.4 L2305.2,1259.6 L2307.7,1259.9 L2310.3,1260.1 L2312.8,1260.3 L2315.3,1260.5 L2317.8,1260.7 L2320.3,1260.9 L2322.8,1261.1 L2325.3,1261.3 L2327.8,1261.5 L2330.3,1261.6 L2332.8,1261.8 L2335.3,1262.0 L2337.8,1262.2 L2340.4,1262.3 L2342.9,1262.5 L2345.4,1262.7 L2347.9,1262.8 L2350.4,1263.0 L2352.9,1263.1 L2355.4,1263.3 L2357.9,1263.4 L2360.4,1263.6 L2362.9,1263.7 L2365.4,1263.9 L2367.9,1264.0 L2370.4,1264.1 L2373.0,1264.3 L2375.5,1264.4 L2378.0,1264.5 L2380.5,1264.7 L2383.0,1264.8 L2385.5,1264.9 L2388.0,1265.0 L2390.5,1265.1 L2393.0,1265.2 L2395.5,1265.3 L2398.0,1265.5 L2400.5,1265.6 L2403.1,1265.7 L2405.6,1265.8 L2408.1,1265.9 L2410.6,1266.0 L2413.1,1266.1 L2415.6,1266.2 L2418.1,1266.3 L2420.6,1266.4 L2423.1,1266.4 L2425.6,1266.5 L2428.1,1266.6 L2430.6,1266.7 L2433.1,1266.8 L2435.7,1266.9 L2438.2,1267.0 L2440.7,1267.0 L2443.2,1267.1" fill="none" stroke="#141414" stroke-width="4.5" stroke-linejoin="round"/>
<path d="M1791.1,1205.2 L1793.6,1201.4 L1796.1,1197.5 L1798.6,1193.5 L1801.1,1189.3 L1803.6,1185.1 L1806.1,1180.8 L1808.7,1176.4 L1811.2,1171.9 L1813.7,1167.4 L1816.2,1162.8 L1818.7,1158.2 L1821.2,1153.5 L1823.7,1148.8 L1826.2,1144.1 L1828.7,1139.4 L1831.2,1134.7 L1833.7,1130.1 L1836.2,1125.5 L1838.8,1120.9 L1841.3,1116.5 L1843.8,1112.1 L1846.3,1107.8 L1848.8,1103.6 L1851.3,1099.6 L1853.8,1095.7 L1856.3,1091.9 L1858.8,1088.3 L1861.3,1085.0 L1863.8,1081.8 L1866.3,1078.8 L1868.8,1076.1 L1871.4,1073.6 L1873.9,1071.3 L1876.4,1069.3 L1878.9,1067.5 L1881.4,1066.0 L1883.9,1064.8 L1886.4,1063.8 L1888.9,1063.2 L1891.4,1062.8 L1893.9,1062.7 L1896.4,1062.8 L1898.9,1063.1 L1901.5,1063.4 L1904.0,1063.9 L1906.5,1064.5 L1909.0,1065.3 L1911.5,1066.1 L1914.0,1067.1 L1916.5,1068.1 L1919.0,1069.3 L1921.5,1070.6 L1924.0,1071.9 L1926.5,1073.4 L1929.0,1074.9 L1931.5,1076.5 L1934.1,1078.1 L1936.6,1079.9 L1939.1,1081.7 L1941.6,1083.5 L1944.1,1085.4 L1946.6,1087.4 L1949.1,1089.4 L1951.6,1091.5 L1954.1,1093.6 L1956.6,1095.7 L1959.1,1097.8 L1961.6,1100.0 L1964.2,1102.2 L1966.7,1104.5 L1969.2,1106.7 L1971.7,1109.0 L1974.2,1111.3 L1976.7,1113.6 L1979.2,1115.8 L1981.7,1118.1 L1984.2,1120.5 L1986.7,1122.8 L1989.2,1125.1 L1991.7,1127.4 L1994.2,1129.6 L1996.8,1131.9 L1999.3,1134.2 L2001.8,1136.5 L2004.3,1138.7 L2006.8,1141.0 L2009.3,1143.2 L2011.8,1145.4 L2014.3,1147.6 L2016.8,1149.7 L2019.3,1151.9 L2021.8,1154.0 L2024.3,1156.1 L2026.9,1158.2 L2029.4,1160.3 L2031.9,1162.3 L2034.4,1164.3 L2036.9,1166.3 L2039.4,1168.3 L2041.9,1170.2 L2044.4,1172.1 L2046.9,1174.0 L2049.4,1175.9 L2051.9,1177.7 L2054.4,1179.5 L2056.9,1181.3 L2059.5,1183.0 L2062.0,1184.7 L2064.5,1186.4 L2067.0,1188.1 L2069.5,1189.8 L2072.0,1191.4 L2074.5,1193.0 L2077.0,1194.5 L2079.5,1196.1 L2082.0,1197.6 L2084.5,1199.0 L2087.0,1200.5 L2089.6,1201.9 L2092.1,1203.3 L2094.6,1204.7 L2097.1,1206.1 L2099.6,1207.4 L2102.1,1208.7 L2104.6,1210.0 L2107.1,1211.2 L2109.6,1212.4 L2112.1,1213.6 L2114.6,1214.8 L2117.1,1216.0 L2119.6,1217.1 L2122.2,1218.2 L2124.7,1219.3 L2127.2,1220.4 L2129.7,1221.5 L2132.2,1222.5 L2134.7,1223.5 L2137.2,1224.5 L2139.7,1225.4 L2142.2,1226.4 L2144.7,1227.3 L2147.2,1228.2 L2149.7,1229.1 L2152.3,1230.0 L2154.8,1230.8 L2157.3,1231.7 L2159.8,1232.5 L2162.3,1233.3 L2164.8,1234.1 L2167.3,1234.9 L2169.8,1235.6 L2172.3,1236.3 L2174.8,1237.1 L2177.3,1237.8 L2179.8,1238.5 L2182.3,1239.1 L2184.9,1239.8 L2187.4,1240.4 L2189.9,1241.1 L2192.4,1241.7 L2194.9,1242.3 L2197.4,1242.9 L2199.9,1243.5 L2202.4,1244.1 L2204.9,1244.6 L2207.4,1245.2 L2209.9,1245.7 L2212.4,1246.2 L2215.0,1246.7 L2217.5,1247.2 L2220.0,1247.7 L2222.5,1248.2 L2225.0,1248.7 L2227.5,1249.1 L2230.0,1249.6 L2232.5,1250.0 L2235.0,1250.4 L2237.5,1250.9 L2240.0,1251.3 L2242.5,1251.7 L2245.0,1252.1 L2247.6,1252.5 L2250.1,1252.8 L2252.6,1253.2 L2255.1,1253.6 L2257.6,1253.9 L2260.1,1254.3 L2262.6,1254.6 L2265.1,1255.0 L2267.6,1255.3 L2270.1,1255.6 L2272.6,1255.9 L2275.1,1256.2 L2277.7,1256.5 L2280.2,1256.8 L2282.7,1257.1 L2285.2,1257.4 L2287.7,1257.6 L2290.2,1257.9 L2292.7,1258.2 L2295.2,1258.4 L2297.7,1258.7 L2300.2,1258.9 L2302.7,1259.2 L2305.2,1259.4 L2307.7,1259.7 L2310.3,1259.9 L2312.8,1260.1 L2315.3,1260.3 L2317.8,1260.5 L2320.3,1260.7 L2322.8,1260.9 L2325.3,1261.1 L2327.8,1261.3 L2330.3,1261.5 L2332.8,1261.7 L2335.3,1261.9 L2337.8,1262.1 L2340.4,1262.3 L2342.9,1262.4 L2345.4,1262.6 L2347.9,1262.8 L2350.4,1262.9 L2352.9,1263.1 L2355.4,1263.3 L2357.9,1263.4 L2360.4,1263.6 L2362.9,1263.7 L2365.4,1263.9 L2367.9,1264.0 L2370.4,1264.1 L2373.0,1264.3 L2375.5,1264.4 L2378.0,1264.5 L2380.5,1264.7 L2383.0,1264.8 L2385.5,1264.9 L2388.0,1265.0 L2390.5,1265.2 L2393.0,1265.3 L2395.5,1265.4 L2398.0,1265.5 L2400.5,1265.6 L2403.1,1265.7 L2405.6,1265.8 L2408.1,1265.9 L2410.6,1266.0 L2413.1,1266.1 L2415.6,1266.2 L2418.1,1266.3 L2420.6,1266.4 L2423.1,1266.5 L2425.6,1266.6 L2428.1,1266.7 L2430.6,1266.8 L2433.1,1266.9 L2435.7,1266.9 L2438.2,1267.0 L2440.7,1267.1 L2443.2,1267.2" fill="none" stroke="#1e1e5a" stroke-width="4.5" stroke-linejoin="round"/>
<path d="M1791.1,1198.4 L1793.6,1194.1 L1796.1,1189.8 L1798.6,1185.3 L1801.1,1180.7 L1803.6,1175.9 L1806.1,1171.1 L1808.7,1166.2 L1811.2,1161.2 L1813.7,1156.1 L1816.2,1150.9 L1818.7,1145.7 L1821.2,1140.5 L1823.7,1135.2 L1826.2,1129.9 L1828.7,1124.6 L1831.2,1119.4 L1833.7,1114.1 L1836.2,1108.9 L1838.8,1103.8 L1841.3,1098.7 L1843.8,1093.8 L1846.3,1088.9 L1848.8,1084.2 L1851.3,1079.7 L1853.8,1075.3 L1856.3,1071.0 L1858.8,1067.0 L1861.3,1063.2 L1863.8,1059.6 L1866.3,1056.2 L1868.8,1053.1 L1871.4,1050.3 L1873.9,1047.7 L1876.4,1045.4 L1878.9,1043.4 L1881.4,1041.7 L1883.9,1040.3 L1886.4,1039.3 L1888.9,1038.5 L1891.4,1038.1 L1893.9,1038.0 L1896.4,1038.1 L1898.9,1038.4 L1901.5,1038.8 L1904.0,1039.4 L1906.5,1040.1 L1909.0,1041.0 L1911.5,1042.0 L1914.0,1043.1 L1916.5,1044.4 L1919.0,1045.7 L1921.5,1047.2 L1924.0,1048.8 L1926.5,1050.4 L1929.0,1052.2 L1931.5,1054.1 L1934.1,1056.0 L1936.6,1058.0 L1939.1,1060.1 L1941.6,1062.2 L1944.1,1064.5 L1946.6,1066.7 L1949.1,1069.1 L1951.6,1071.4 L1954.1,1073.9 L1956.6,1076.3 L1959.1,1078.8 L1961.6,1081.3 L1964.2,1083.9 L1966.7,1086.4 L1969.2,1089.0 L1971.7,1091.6 L1974.2,1094.3 L1976.7,1096.9 L1979.2,1099.5 L1981.7,1102.2 L1984.2,1104.8 L1986.7,1107.4 L1989.2,1110.1 L1991.7,1112.7 L1994.2,1115.3 L1996.8,1117.9 L1999.3,1120.5 L2001.8,1123.1 L2004.3,1125.6 L2006.8,1128.2 L2009.3,1130.7 L2011.8,1133.2 L2014.3,1135.7 L2016.8,1138.1 L2019.3,1140.6 L2021.8,1143.0 L2024.3,1145.3 L2026.9,1147.7 L2029.4,1150.0 L2031.9,1152.3 L2034.4,1154.6 L2036.9,1156.8 L2039.4,1159.0 L2041.9,1161.2 L2044.4,1163.4 L2046.9,1165.5 L2049.4,1167.5 L2051.9,1169.6 L2054.4,1171.6 L2056.9,1173.6 L2059.5,1175.6 L2062.0,1177.5 L2064.5,1179.4 L2067.0,1181.2 L2069.5,1183.1 L2072.0,1184.9 L2074.5,1186.6 L2077.0,1188.4 L2079.5,1190.1 L2082.0,1191.7 L2084.5,1193.4 L2087.0,1195.0 L2089.6,1196.6 L2092.1,1198.1 L2094.6,1199.6 L2097.1,1201.1 L2099.6,1202.6 L2102.1,1204.0 L2104.6,1205.4 L2107.1,1206.8 L2109.6,1208.2 L2112.1,1209.5 L2114.6,1210.8 L2117.1,1212.1 L2119.6,1213.3 L2122.2,1214.5 L2124.7,1215.7 L2127.2,1216.9 L2129.7,1218.0 L2132.2,1219.2 L2134.7,1220.3 L2137.2,1221.3 L2139.7,1222.4 L2142.2,1223.4 L2144.7,1224.4 L2147.2,1225.4 L2149.7,1226.4 L2152.3,1227.3 L2154.8,1228.3 L2157.3,1229.2 L2159.8,1230.1 L2162.3,1230.9 L2164.8,1231.8 L2167.3,1232.6 L2169.8,1233.4 L2172.3,1234.2 L2174.8,1235.0 L2177.3,1235.8 L2179.8,1236.5 L2182.3,1237.3 L2184.9,1238.0 L2187.4,1238.7 L2189.9,1239.3 L2192.4,1240.0 L2194.9,1240.7 L2197.4,1241.3 L2199.9,1241.9 L2202.4,1242.6 L2204.9,1243.1 L2207.4,1243.7 L2209.9,1244.3 L2212.4,1244.9 L2215.0,1245.4 L2217.5,1246.0 L2220.0,1246.5 L2222.5,1247.0 L2225.0,1247.5 L2227.5,1248.0 L2230.0,1248.5 L2232.5,1248.9 L2235.0,1249.4 L2237.5,1249.8 L2240.0,1250.3 L2242.5,1250.7 L2245.0,1251.1 L2247.6,1251.5 L2250.1,1251.9 L2252.6,1252.3 L2255.1,1252.7 L2257.6,1253.1 L2260.1,1253.5 L2262.6,1253.8 L2265.1,1254.2 L2267.6,1254.5 L2270.1,1254.9 L2272.6,1255.2 L2275.1,1255.5 L2277.7,1255.8 L2280.2,1256.2 L2282.7,1256.5 L2285.2,1256.8 L2287.7,1257.0 L2290.2,1257.3 L2292.7,1257.6 L2295.2,1257.9 L2297.7,1258.1 L2300.2,1258.4 L2302.7,1258.7 L2305.2,1258.9 L2307.7,1259.2 L2310.3,1259.4 L2312.8,1259.6 L2315.3,1259.9 L2317.8,1260.1 L2320.3,1260.3 L2322.8,1260.5 L2325.3,1260.7 L2327.8,1260.9 L2330.3,1261.1 L2332.8,1261.3 L2335.3,1261.5 L2337.8,1261.7 L2340.4,1261.9 L2342.9,1262.1 L2345.4,1262.3 L2347.9,1262.4 L2350.4,1262.6 L2352.9,1262.8 L2355.4,1262.9 L2357.9,1263.1 L2360.4,1263.3 L2362.9,1263.4 L2365.4,1263.6 L2367.9,1263.7 L2370.4,1263.9 L2373.0,1264.0 L2375.5,1264.2 L2378.0,1264.3 L2380.5,1264.4 L2383.0,1264.6 L2385.5,1264.7 L2388.0,1264.8 L2390.5,1264.9 L2393.0,1265.1 L2395.5,1265.2 L2398.0,1265.3 L2400.5,1265.4 L2403.1,1265.5 L2405.6,1265.6 L2408.1,1265.7 L2410.6,1265.8 L2413.1,1265.9 L2415.6,1266.0 L2418.1,1266.1 L2420.6,1266.2 L2423.1,1266.3 L2425.6,1266.4 L2428.1,1266.5 L2430.6,1266.6 L2433.1,1266.7 L2435.7,1266.8 L2438.2,1266.9 L2440.7,1267.0 L2443.2,1267.0" fill="none" stroke="#e010e0" stroke-width="4.5" stroke-linejoin="round"/>
<path d="M1791.1,1196.1 L1793.6,1191.4 L1796.1,1186.6 L1798.6,1181.6 L1801.1,1176.5 L1803.6,1171.2 L1806.1,1165.8 L1808.7,1160.2 L1811.2,1154.6 L1813.7,1148.8 L1816.2,1143.0 L1818.7,1137.1 L1821.2,1131.1 L1823.7,1125.0 L1826.2,1119.0 L1828.7,1112.9 L1831.2,1106.8 L1833.7,1100.8 L1836.2,1094.7 L1838.8,1088.8 L1841.3,1082.9 L1843.8,1077.1 L1846.3,1071.5 L1848.8,1066.0 L1851.3,1060.6 L1853.8,1055.5 L1856.3,1050.5 L1858.8,1045.8 L1861.3,1041.3 L1863.8,1037.0 L1866.3,1033.1 L1868.8,1029.4 L1871.4,1026.0 L1873.9,1023.0 L1876.4,1020.3 L1878.9,1017.9 L1881.4,1015.9 L1883.9,1014.3 L1886.4,1013.0 L1888.9,1012.1 L1891.4,1011.6 L1893.9,1011.5 L1896.4,1011.6 L1898.9,1012.0 L1901.5,1012.5 L1904.0,1013.1 L1906.5,1014.0 L1909.0,1015.0 L1911.5,1016.1 L1914.0,1017.4 L1916.5,1018.9 L1919.0,1020.5 L1921.5,1022.2 L1924.0,1024.0 L1926.5,1026.0 L1929.0,1028.0 L1931.5,1030.2 L1934.1,1032.4 L1936.6,1034.7 L1939.1,1037.1 L1941.6,1039.6 L1944.1,1042.2 L1946.6,1044.8 L1949.1,1047.5 L1951.6,1050.2 L1954.1,1053.0 L1956.6,1055.9 L1959.1,1058.7 L1961.6,1061.6 L1964.2,1064.5 L1966.7,1067.5 L1969.2,1070.5 L1971.7,1073.4 L1974.2,1076.4 L1976.7,1079.4 L1979.2,1082.4 L1981.7,1085.5 L1984.2,1088.5 L1986.7,1091.5 L1989.2,1094.5 L1991.7,1097.4 L1994.2,1100.4 L1996.8,1103.4 L1999.3,1106.3 L2001.8,1109.2 L2004.3,1112.1 L2006.8,1115.0 L2009.3,1117.8 L2011.8,1120.7 L2014.3,1123.5 L2016.8,1126.2 L2019.3,1129.0 L2021.8,1131.7 L2024.3,1134.4 L2026.9,1137.0 L2029.4,1139.6 L2031.9,1142.2 L2034.4,1144.7 L2036.9,1147.2 L2039.4,1149.7 L2041.9,1152.1 L2044.4,1154.5 L2046.9,1156.9 L2049.4,1159.2 L2051.9,1161.5 L2054.4,1163.7 L2056.9,1165.9 L2059.5,1168.1 L2062.0,1170.2 L2064.5,1172.3 L2067.0,1174.4 L2069.5,1176.4 L2072.0,1178.4 L2074.5,1180.3 L2077.0,1182.3 L2079.5,1184.1 L2082.0,1186.0 L2084.5,1187.8 L2087.0,1189.6 L2089.6,1191.3 L2092.1,1193.0 L2094.6,1194.7 L2097.1,1196.3 L2099.6,1197.9 L2102.1,1199.5 L2104.6,1201.0 L2107.1,1202.5 L2109.6,1204.0 L2112.1,1205.5 L2114.6,1206.9 L2117.1,1208.3 L2119.6,1209.6 L2122.2,1211.0 L2124.7,1212.3 L2127.2,1213.5 L2129.7,1214.8 L2132.2,1216.0 L2134.7,1217.2 L2137.2,1218.4 L2139.7,1219.5 L2142.2,1220.6 L2144.7,1221.7 L2147.2,1222.8 L2149.7,1223.8 L2152.3,1224.9 L2154.8,1225.9 L2157.3,1226.8 L2159.8,1227.8 L2162.3,1228.7 L2164.8,1229.6 L2167.3,1230.5 L2169.8,1231.4 L2172.3,1232.3 L2174.8,1233.1 L2177.3,1233.9 L2179.8,1234.7 L2182.3,1235.5 L2184.9,1236.3 L2187.4,1237.0 L2189.9,1237.8 L2192.4,1238.5 L2194.9,1239.2 L2197.4,1239.9 L2199.9,1240.5 L2202.4,1241.2 L2204.9,1241.8 L2207.4,1242.4 L2209.9,1243.1 L2212.4,1243.6 L2215.0,1244.2 L2217.5,1244.8 L2220.0,1245.4 L2222.5,1245.9 L2225.0,1246.4 L2227.5,1247.0 L2230.0,1247.5 L2232.5,1248.0 L2235.0,1248.5 L2237.5,1248.9 L2240.0,1249.4 L2242.5,1249.9 L2245.0,1250.3 L2247.6,1250.7 L2250.1,1251.2 L2252.6,1251.6 L2255.1,1252.0 L2257.6,1252.4 L2260.1,1252.8 L2262.6,1253.2 L2265.1,1253.5 L2267.6,1253.9 L2270.1,1254.2 L2272.6,1254.6 L2275.1,1254.9 L2277.7,1255.3 L2280.2,1255.6 L2282.7,1255.9 L2285.2,1256.2 L2287.7,1256.5 L2290.2,1256.8 L2292.7,1257.1 L2295.2,1257.4 L2297.7,1257.7 L2300.2,1258.0 L2302.7,1258.2 L2305.2,1258.5 L2307.7,1258.7 L2310.3,1259.0 L2312.8,1259.2 L2315.3,1259.5 L2317.8,1259.7 L2320.3,1259.9 L2322.8,1260.2 L2325.3,1260.4 L2327.8,1260.6 L2330.3,1260.8 L2332.8,1261.0 L2335.3,1261.2 L2337.8,1261.4 L2340.4,1261.6 L2342.9,1261.8 L2345.4,1262.0 L2347.9,1262.2 L2350.4,1262.4 L2352.9,1262.5 L2355.4,1262.7 L2357.9,1262.9 L2360.4,1263.0 L2362.9,1263.2 L2365.4,1263.3 L2367.9,1263.5 L2370.4,1263.7 L2373.0,1263.8 L2375.5,1263.9 L2378.0,1264.1 L2380.5,1264.2 L2383.0,1264.4 L2385.5,1264.5 L2388.0,1264.6 L2390.5,1264.8 L2393.0,1264.9 L2395.5,1265.0 L2398.0,1265.1 L2400.5,1265.2 L2403.1,1265.4 L2405.6,1265.5 L2408.1,1265.6 L2410.6,1265.7 L2413.1,1265.8 L2415.6,1265.9 L2418.1,1266.0 L2420.6,1266.1 L2423.1,1266.2 L2425.6,1266.3 L2428.1,1266.4 L2430.6,1266.5 L2433.1,1266.6 L2435.7,1266.7 L2438.2,1266.8 L2440.7,1266.8 L2443.2,1266.9" fill="none" stroke="#6414c8" stroke-width="4.5" stroke-linejoin="round"/>
<path d="M1791.1,1198.5 L1793.6,1193.3 L1796.1,1187.9 L1798.6,1182.3 L1801.1,1176.4 L1803.6,1170.3 L1806.1,1164.1 L1808.7,1157.6 L1811.2,1151.0 L1813.7,1144.1 L1816.2,1137.2 L1818.7,1130.1 L1821.2,1122.8 L1823.7,1115.5 L1826.2,1108.1 L1828.7,1100.6 L1831.2,1093.1 L1833.7,1085.6 L1836.2,1078.0 L1838.8,1070.6 L1841.3,1063.2 L1843.8,1055.8 L1846.3,1048.6 L1848.8,1041.6 L1851.3,1034.8 L1853.8,1028.1 L1856.3,1021.7 L1858.8,1015.5 L1861.3,1009.7 L1863.8,1004.2 L1866.3,999.0 L1868.8,994.2 L1871.4,989.8 L1873.9,985.8 L1876.4,982.2 L1878.9,979.1 L1881.4,976.4 L1883.9,974.3 L1886.4,972.6 L1888.9,971.4 L1891.4,970.8 L1893.9,970.6 L1896.4,970.8 L1898.9,971.2 L1901.5,971.8 L1904.0,972.6 L1906.5,973.7 L1909.0,974.9 L1911.5,976.3 L1914.0,977.9 L1916.5,979.7 L1919.0,981.7 L1921.5,983.8 L1924.0,986.0 L1926.5,988.4 L1929.0,990.9 L1931.5,993.5 L1934.1,996.3 L1936.6,999.1 L1939.1,1002.1 L1941.6,1005.1 L1944.1,1008.2 L1946.6,1011.4 L1949.1,1014.6 L1951.6,1018.0 L1954.1,1021.3 L1956.6,1024.8 L1959.1,1028.2 L1961.6,1031.7 L1964.2,1035.2 L1966.7,1038.8 L1969.2,1042.4 L1971.7,1045.9 L1974.2,1049.5 L1976.7,1053.1 L1979.2,1056.7 L1981.7,1060.3 L1984.2,1063.9 L1986.7,1067.5 L1989.2,1071.0 L1991.7,1074.6 L1994.2,1078.1 L1996.8,1081.6 L1999.3,1085.1 L2001.8,1088.6 L2004.3,1092.0 L2006.8,1095.4 L2009.3,1098.7 L2011.8,1102.1 L2014.3,1105.4 L2016.8,1108.6 L2019.3,1111.8 L2021.8,1115.0 L2024.3,1118.1 L2026.9,1121.2 L2029.4,1124.3 L2031.9,1127.3 L2034.4,1130.2 L2036.9,1133.1 L2039.4,1136.0 L2041.9,1138.8 L2044.4,1141.6 L2046.9,1144.3 L2049.4,1147.0 L2051.9,1149.6 L2054.4,1152.2 L2056.9,1154.8 L2059.5,1157.3 L2062.0,1159.7 L2064.5,1162.1 L2067.0,1164.5 L2069.5,1166.8 L2072.0,1169.1 L2074.5,1171.3 L2077.0,1173.5 L2079.5,1175.6 L2082.0,1177.7 L2084.5,1179.8 L2087.0,1181.8 L2089.6,1183.8 L2092.1,1185.7 L2094.6,1187.6 L2097.1,1189.4 L2099.6,1191.3 L2102.1,1193.0 L2104.6,1194.8 L2107.1,1196.5 L2109.6,1198.1 L2112.1,1199.8 L2114.6,1201.3 L2117.1,1202.9 L2119.6,1204.4 L2122.2,1205.9 L2124.7,1207.4 L2127.2,1208.8 L2129.7,1210.2 L2132.2,1211.5 L2134.7,1212.9 L2137.2,1214.2 L2139.7,1215.4 L2142.2,1216.7 L2144.7,1217.9 L2147.2,1219.1 L2149.7,1220.3 L2152.3,1221.4 L2154.8,1222.5 L2157.3,1223.6 L2159.8,1224.6 L2162.3,1225.7 L2164.8,1226.7 L2167.3,1227.7 L2169.8,1228.6 L2172.3,1229.6 L2174.8,1230.5 L2177.3,1231.4 L2179.8,1232.3 L2182.3,1233.1 L2184.9,1234.0 L2187.4,1234.8 L2189.9,1235.6 L2192.4,1236.4 L2194.9,1237.1 L2197.4,1237.9 L2199.9,1238.6 L2202.4,1239.3 L2204.9,1240.0 L2207.4,1240.7 L2209.9,1241.3 L2212.4,1242.0 L2215.0,1242.6 L2217.5,1243.2 L2220.0,1243.8 L2222.5,1244.4 L2225.0,1245.0 L2227.5,1245.6 L2230.0,1246.1 L2232.5,1246.7 L2235.0,1247.2 L2237.5,1247.7 L2240.0,1248.2 L2242.5,1248.7 L2245.0,1249.2 L2247.6,1249.6 L2250.1,1250.1 L2252.6,1250.5 L2255.1,1251.0 L2257.6,1251.4 L2260.1,1251.8 L2262.6,1252.2 L2265.1,1252.6 L2267.6,1253.0 L2270.1,1253.4 L2272.6,1253.8 L2275.1,1254.1 L2277.7,1254.5 L2280.2,1254.8 L2282.7,1255.2 L2285.2,1255.5 L2287.7,1255.8 L2290.2,1256.2 L2292.7,1256.5 L2295.2,1256.8 L2297.7,1257.1 L2300.2,1257.4 L2302.7,1257.6 L2305.2,1257.9 L2307.7,1258.2 L2310.3,1258.5 L2312.8,1258.7 L2315.3,1259.0 L2317.8,1259.2 L2320.3,1259.5 L2322.8,1259.7 L2325.3,1259.9 L2327.8,1260.2 L2330.3,1260.4 L2332.8,1260.6 L2335.3,1260.8 L2337.8,1261.0 L2340.4,1261.2 L2342.9,1261.4 L2345.4,1261.6 L2347.9,1261.8 L2350.4,1262.0 L2352.9,1262.2 L2355.4,1262.4 L2357.9,1262.5 L2360.4,1262.7 L2362.9,1262.9 L2365.4,1263.0 L2367.9,1263.2 L2370.4,1263.4 L2373.0,1263.5 L2375.5,1263.7 L2378.0,1263.8 L2380.5,1264.0 L2383.0,1264.1 L2385.5,1264.3 L2388.0,1264.4 L2390.5,1264.5 L2393.0,1264.7 L2395.5,1264.8 L2398.0,1264.9 L2400.5,1265.0 L2403.1,1265.2 L2405.6,1265.3 L2408.1,1265.4 L2410.6,1265.5 L2413.1,1265.6 L2415.6,1265.7 L2418.1,1265.8 L2420.6,1265.9 L2423.1,1266.0 L2425.6,1266.1 L2428.1,1266.2 L2430.6,1266.3 L2433.1,1266.4 L2435.7,1266.5 L2438.2,1266.6 L2440.7,1266.7 L2443.2,1266.8" fill="none" stroke="#1010d0" stroke-width="4.5" stroke-linejoin="round"/>
<path d="M1791.1,1187.0 L1793.6,1181.0 L1796.1,1174.7 L1798.6,1168.2 L1801.1,1161.4 L1803.6,1154.4 L1806.1,1147.2 L1808.7,1139.7 L1811.2,1132.0 L1813.7,1124.1 L1816.2,1116.0 L1818.7,1107.8 L1821.2,1099.5 L1823.7,1091.0 L1826.2,1082.4 L1828.7,1073.8 L1831.2,1065.1 L1833.7,1056.4 L1836.2,1047.7 L1838.8,1039.0 L1841.3,1030.5 L1843.8,1022.0 L1846.3,1013.7 L1848.8,1005.5 L1851.3,997.6 L1853.8,989.9 L1856.3,982.5 L1858.8,975.4 L1861.3,968.6 L1863.8,962.2 L1866.3,956.3 L1868.8,950.7 L1871.4,945.6 L1873.9,941.0 L1876.4,936.8 L1878.9,933.2 L1881.4,930.2 L1883.9,927.7 L1886.4,925.8 L1888.9,924.4 L1891.4,923.6 L1893.9,923.4 L1896.4,923.7 L1898.9,924.2 L1901.5,925.0 L1904.0,926.0 L1906.5,927.3 L1909.0,928.9 L1911.5,930.7 L1914.0,932.8 L1916.5,935.0 L1919.0,937.5 L1921.5,940.2 L1924.0,943.0 L1926.5,946.0 L1929.0,949.2 L1931.5,952.5 L1934.1,955.9 L1936.6,959.5 L1939.1,963.2 L1941.6,967.0 L1944.1,970.9 L1946.6,974.9 L1949.1,978.9 L1951.6,983.1 L1954.1,987.2 L1956.6,991.5 L1959.1,995.7 L1961.6,1000.0 L1964.2,1004.4 L1966.7,1008.7 L1969.2,1013.1 L1971.7,1017.5 L1974.2,1021.9 L1976.7,1026.3 L1979.2,1030.6 L1981.7,1035.0 L1984.2,1039.3 L1986.7,1043.7 L1989.2,1048.0 L1991.7,1052.2 L1994.2,1056.5 L1996.8,1060.7 L1999.3,1064.8 L2001.8,1069.0 L2004.3,1073.0 L2006.8,1077.1 L2009.3,1081.1 L2011.8,1085.0 L2014.3,1088.9 L2016.8,1092.7 L2019.3,1096.5 L2021.8,1100.2 L2024.3,1103.9 L2026.9,1107.5 L2029.4,1111.0 L2031.9,1114.5 L2034.4,1118.0 L2036.9,1121.4 L2039.4,1124.7 L2041.9,1127.9 L2044.4,1131.1 L2046.9,1134.3 L2049.4,1137.4 L2051.9,1140.4 L2054.4,1143.4 L2056.9,1146.3 L2059.5,1149.1 L2062.0,1151.9 L2064.5,1154.6 L2067.0,1157.3 L2069.5,1159.9 L2072.0,1162.5 L2074.5,1165.0 L2077.0,1167.5 L2079.5,1169.9 L2082.0,1172.2 L2084.5,1174.5 L2087.0,1176.8 L2089.6,1179.0 L2092.1,1181.1 L2094.6,1183.2 L2097.1,1185.3 L2099.6,1187.3 L2102.1,1189.3 L2104.6,1191.2 L2107.1,1193.1 L2109.6,1194.9 L2112.1,1196.7 L2114.6,1198.4 L2117.1,1200.1 L2119.6,1201.8 L2122.2,1203.4 L2124.7,1205.0 L2127.2,1206.6 L2129.7,1208.1 L2132.2,1209.6 L2134.7,1211.0 L2137.2,1212.4 L2139.7,1213.8 L2142.2,1215.1 L2144.7,1216.4 L2147.2,1217.7 L2149.7,1219.0 L2152.3,1220.2 L2154.8,1221.4 L2157.3,1222.5 L2159.8,1223.6 L2162.3,1224.7 L2164.8,1225.8 L2167.3,1226.9 L2169.8,1227.9 L2172.3,1228.9 L2174.8,1229.9 L2177.3,1230.8 L2179.8,1231.8 L2182.3,1232.7 L2184.9,1233.5 L2187.4,1234.4 L2189.9,1235.2 L2192.4,1236.1 L2194.9,1236.9 L2197.4,1237.6 L2199.9,1238.4 L2202.4,1239.1 L2204.9,1239.9 L2207.4,1240.6 L2209.9,1241.3 L2212.4,1241.9 L2215.0,1242.6 L2217.5,1243.2 L2220.0,1243.9 L2222.5,1244.5 L2225.0,1245.1 L2227.5,1245.7 L2230.0,1246.2 L2232.5,1246.8 L2235.0,1247.3 L2237.5,1247.9 L2240.0,1248.4 L2242.5,1248.9 L2245.0,1249.4 L2247.6,1249.8 L2250.1,1250.3 L2252.6,1250.8 L2255.1,1251.2 L2257.6,1251.7 L2260.1,1252.1 L2262.6,1252.5 L2265.1,1252.9 L2267.6,1253.3 L2270.1,1253.7 L2272.6,1254.1 L2275.1,1254.4 L2277.7,1254.8 L2280.2,1255.1 L2282.7,1255.5 L2285.2,1255.8 L2287.7,1256.1 L2290.2,1256.5 L2292.7,1256.8 L2295.2,1257.1 L2297.7,1257.4 L2300.2,1257.7 L2302.7,1258.0 L2305.2,1258.2 L2307.7,1258.5 L2310.3,1258.8 L2312.8,1259.0 L2315.3,1259.3 L2317.8,1259.5 L2320.3,1259.8 L2322.8,1260.0 L2325.3,1260.3 L2327.8,1260.5 L2330.3,1260.7 L2332.8,1260.9 L2335.3,1261.1 L2337.8,1261.3 L2340.4,1261.5 L2342.9,1261.7 L2345.4,1261.9 L2347.9,1262.1 L2350.4,1262.3 L2352.9,1262.5 L2355.4,1262.7 L2357.9,1262.8 L2360.4,1263.0 L2362.9,1263.2 L2365.4,1263.3 L2367.9,1263.5 L2370.4,1263.7 L2373.0,1263.8 L2375.5,1264.0 L2378.0,1264.1 L2380.5,1264.3 L2383.0,1264.4 L2385.5,1264.5 L2388.0,1264.7 L2390.5,1264.8 L2393.0,1264.9 L2395.5,1265.1 L2398.0,1265.2 L2400.5,1265.3 L2403.1,1265.4 L2405.6,1265.5 L2408.1,1265.6 L2410.6,1265.8 L2413.1,1265.9 L2415.6,1266.0 L2418.1,1266.1 L2420.6,1266.2 L2423.1,1266.3 L2425.6,1266.4 L2428.1,1266.5 L2430.6,1266.6 L2433.1,1266.7 L2435.7,1266.7 L2438.2,1266.8 L2440.7,1266.9 L2443.2,1267.0" fill="none" stroke="#4a0c0c" stroke-width="4.5" stroke-linejoin="round"/>
<path d="M1791.1,1175.9 L1793.6,1168.9 L1796.1,1161.5 L1798.6,1153.9 L1801.1,1146.0 L1803.6,1137.7 L1806.1,1129.2 L1808.7,1120.4 L1811.2,1111.3 L1813.7,1102.0 L1816.2,1092.5 L1818.7,1082.7 L1821.2,1072.8 L1823.7,1062.7 L1826.2,1052.5 L1828.7,1042.2 L1831.2,1031.8 L1833.7,1021.5 L1836.2,1011.1 L1838.8,1000.7 L1841.3,990.4 L1843.8,980.3 L1846.3,970.3 L1848.8,960.5 L1851.3,951.0 L1853.8,941.7 L1856.3,932.8 L1858.8,924.2 L1861.3,916.1 L1863.8,908.4 L1866.3,901.1 L1868.8,894.4 L1871.4,888.2 L1873.9,882.6 L1876.4,877.7 L1878.9,873.3 L1881.4,869.6 L1883.9,866.6 L1886.4,864.2 L1888.9,862.6 L1891.4,861.7 L1893.9,861.4 L1896.4,861.7 L1898.9,862.4 L1901.5,863.5 L1904.0,864.9 L1906.5,866.7 L1909.0,868.7 L1911.5,871.2 L1914.0,873.9 L1916.5,876.9 L1919.0,880.1 L1921.5,883.6 L1924.0,887.4 L1926.5,891.3 L1929.0,895.5 L1931.5,899.8 L1934.1,904.3 L1936.6,908.9 L1939.1,913.7 L1941.6,918.6 L1944.1,923.7 L1946.6,928.8 L1949.1,934.0 L1951.6,939.3 L1954.1,944.6 L1956.6,950.0 L1959.1,955.5 L1961.6,960.9 L1964.2,966.4 L1966.7,971.9 L1969.2,977.4 L1971.7,982.9 L1974.2,988.4 L1976.7,993.9 L1979.2,999.4 L1981.7,1004.8 L1984.2,1010.2 L1986.7,1015.5 L1989.2,1020.8 L1991.7,1026.1 L1994.2,1031.3 L1996.8,1036.4 L1999.3,1041.5 L2001.8,1046.5 L2004.3,1051.5 L2006.8,1056.4 L2009.3,1061.2 L2011.8,1065.9 L2014.3,1070.6 L2016.8,1075.2 L2019.3,1079.7 L2021.8,1084.1 L2024.3,1088.5 L2026.9,1092.8 L2029.4,1097.0 L2031.9,1101.1 L2034.4,1105.1 L2036.9,1109.1 L2039.4,1113.0 L2041.9,1116.8 L2044.4,1120.5 L2046.9,1124.1 L2049.4,1127.7 L2051.9,1131.2 L2054.4,1134.6 L2056.9,1138.0 L2059.5,1141.2 L2062.0,1144.4 L2064.5,1147.6 L2067.0,1150.6 L2069.5,1153.6 L2072.0,1156.5 L2074.5,1159.3 L2077.0,1162.1 L2079.5,1164.8 L2082.0,1167.5 L2084.5,1170.1 L2087.0,1172.6 L2089.6,1175.0 L2092.1,1177.4 L2094.6,1179.8 L2097.1,1182.0 L2099.6,1184.3 L2102.1,1186.4 L2104.6,1188.6 L2107.1,1190.6 L2109.6,1192.6 L2112.1,1194.6 L2114.6,1196.5 L2117.1,1198.4 L2119.6,1200.2 L2122.2,1201.9 L2124.7,1203.6 L2127.2,1205.3 L2129.7,1207.0 L2132.2,1208.6 L2134.7,1210.1 L2137.2,1211.6 L2139.7,1213.1 L2142.2,1214.5 L2144.7,1215.9 L2147.2,1217.3 L2149.7,1218.6 L2152.3,1219.9 L2154.8,1221.2 L2157.3,1222.4 L2159.8,1223.6 L2162.3,1224.7 L2164.8,1225.9 L2167.3,1227.0 L2169.8,1228.0 L2172.3,1229.1 L2174.8,1230.1 L2177.3,1231.1 L2179.8,1232.1 L2182.3,1233.0 L2184.9,1233.9 L2187.4,1234.8 L2189.9,1235.7 L2192.4,1236.5 L2194.9,1237.4 L2197.4,1238.2 L2199.9,1239.0 L2202.4,1239.7 L2204.9,1240.5 L2207.4,1241.2 L2209.9,1241.9 L2212.4,1242.6 L2215.0,1243.3 L2217.5,1243.9 L2220.0,1244.6 L2222.5,1245.2 L2225.0,1245.8 L2227.5,1246.4 L2230.0,1246.9 L2232.5,1247.5 L2235.0,1248.1 L2237.5,1248.6 L2240.0,1249.1 L2242.5,1249.6 L2245.0,1250.1 L2247.6,1250.6 L2250.1,1251.1 L2252.6,1251.5 L2255.1,1252.0 L2257.6,1252.4 L2260.1,1252.8 L2262.6,1253.2 L2265.1,1253.6 L2267.6,1254.0 L2270.1,1254.4 L2272.6,1254.8 L2275.1,1255.2 L2277.7,1255.5 L2280.2,1255.9 L2282.7,1256.2 L2285.2,1256.5 L2287.7,1256.9 L2290.2,1257.2 L2292.7,1257.5 L2295.2,1257.8 L2297.7,1258.1 L2300.2,1258.4 L2302.7,1258.6 L2305.2,1258.9 L2307.7,1259.2 L2310.3,1259.4 L2312.8,1259.7 L2315.3,1260.0 L2317.8,1260.2 L2320.3,1260.4 L2322.8,1260.7 L2325.3,1260.9 L2327.8,1261.1 L2330.3,1261.3 L2332.8,1261.5 L2335.3,1261.7 L2337.8,1261.9 L2340.4,1262.1 L2342.9,1262.3 L2345.4,1262.5 L2347.9,1262.7 L2350.4,1262.9 L2352.9,1263.1 L2355.4,1263.2 L2357.9,1263.4 L2360.4,1263.6 L2362.9,1263.7 L2365.4,1263.9 L2367.9,1264.0 L2370.4,1264.2 L2373.0,1264.3 L2375.5,1264.5 L2378.0,1264.6 L2380.5,1264.7 L2383.0,1264.9 L2385.5,1265.0 L2388.0,1265.1 L2390.5,1265.3 L2393.0,1265.4 L2395.5,1265.5 L2398.0,1265.6 L2400.5,1265.7 L2403.1,1265.9 L2405.6,1266.0 L2408.1,1266.1 L2410.6,1266.2 L2413.1,1266.3 L2415.6,1266.4 L2418.1,1266.5 L2420.6,1266.6 L2423.1,1266.7 L2425.6,1266.8 L2428.1,1266.9 L2430.6,1266.9 L2433.1,1267.0 L2435.7,1267.1 L2438.2,1267.2 L2440.7,1267.3 L2443.2,1267.4" fill="none" stroke="#c0282c" stroke-width="5" stroke-dasharray="0.1 8.5" stroke-linecap="round" stroke-linejoin="round"/>
<path d="M1791.1,1159.6 L1793.6,1151.5 L1796.1,1143.1 L1798.6,1134.3 L1801.1,1125.2 L1803.6,1115.7 L1806.1,1106.0 L1808.7,1095.9 L1811.2,1085.5 L1813.7,1074.8 L1816.2,1063.9 L1818.7,1052.8 L1821.2,1041.5 L1823.7,1030.0 L1826.2,1018.3 L1828.7,1006.6 L1831.2,994.8 L1833.7,983.0 L1836.2,971.2 L1838.8,959.4 L1841.3,947.8 L1843.8,936.2 L1846.3,924.9 L1848.8,913.8 L1851.3,903.0 L1853.8,892.5 L1856.3,882.4 L1858.8,872.7 L1861.3,863.5 L1863.8,854.7 L1866.3,846.6 L1868.8,838.9 L1871.4,832.0 L1873.9,825.6 L1876.4,820.0 L1878.9,815.1 L1881.4,810.9 L1883.9,807.5 L1886.4,804.8 L1888.9,803.0 L1891.4,801.9 L1893.9,801.7 L1896.4,802.1 L1898.9,802.9 L1901.5,804.2 L1904.0,806.0 L1906.5,808.2 L1909.0,810.9 L1911.5,813.9 L1914.0,817.3 L1916.5,821.0 L1919.0,825.1 L1921.5,829.5 L1924.0,834.1 L1926.5,839.0 L1929.0,844.1 L1931.5,849.5 L1934.1,855.1 L1936.6,860.8 L1939.1,866.7 L1941.6,872.7 L1944.1,878.9 L1946.6,885.2 L1949.1,891.5 L1951.6,898.0 L1954.1,904.5 L1956.6,911.0 L1959.1,917.6 L1961.6,924.2 L1964.2,930.8 L1966.7,937.5 L1969.2,944.1 L1971.7,950.7 L1974.2,957.3 L1976.7,963.8 L1979.2,970.3 L1981.7,976.7 L1984.2,983.1 L1986.7,989.4 L1989.2,995.7 L1991.7,1001.9 L1994.2,1008.0 L1996.8,1014.0 L1999.3,1020.0 L2001.8,1025.9 L2004.3,1031.6 L2006.8,1037.3 L2009.3,1042.9 L2011.8,1048.4 L2014.3,1053.8 L2016.8,1059.1 L2019.3,1064.3 L2021.8,1069.4 L2024.3,1074.4 L2026.9,1079.3 L2029.4,1084.1 L2031.9,1088.8 L2034.4,1093.4 L2036.9,1097.8 L2039.4,1102.2 L2041.9,1106.5 L2044.4,1110.8 L2046.9,1114.9 L2049.4,1118.9 L2051.9,1122.8 L2054.4,1126.6 L2056.9,1130.4 L2059.5,1134.0 L2062.0,1137.6 L2064.5,1141.0 L2067.0,1144.4 L2069.5,1147.7 L2072.0,1150.9 L2074.5,1154.1 L2077.0,1157.1 L2079.5,1160.1 L2082.0,1163.0 L2084.5,1165.8 L2087.0,1168.6 L2089.6,1171.3 L2092.1,1173.9 L2094.6,1176.4 L2097.1,1178.9 L2099.6,1181.3 L2102.1,1183.7 L2104.6,1185.9 L2107.1,1188.2 L2109.6,1190.3 L2112.1,1192.4 L2114.6,1194.5 L2117.1,1196.5 L2119.6,1198.4 L2122.2,1200.3 L2124.7,1202.1 L2127.2,1203.9 L2129.7,1205.7 L2132.2,1207.4 L2134.7,1209.0 L2137.2,1210.6 L2139.7,1212.2 L2142.2,1213.7 L2144.7,1215.2 L2147.2,1216.6 L2149.7,1218.0 L2152.3,1219.3 L2154.8,1220.7 L2157.3,1221.9 L2159.8,1223.2 L2162.3,1224.4 L2164.8,1225.6 L2167.3,1226.7 L2169.8,1227.9 L2172.3,1228.9 L2174.8,1230.0 L2177.3,1231.0 L2179.8,1232.0 L2182.3,1233.0 L2184.9,1234.0 L2187.4,1234.9 L2189.9,1235.8 L2192.4,1236.7 L2194.9,1237.5 L2197.4,1238.3 L2199.9,1239.1 L2202.4,1239.9 L2204.9,1240.7 L2207.4,1241.4 L2209.9,1242.2 L2212.4,1242.9 L2215.0,1243.6 L2217.5,1244.2 L2220.0,1244.9 L2222.5,1245.5 L2225.0,1246.1 L2227.5,1246.7 L2230.0,1247.3 L2232.5,1247.9 L2235.0,1248.4 L2237.5,1249.0 L2240.0,1249.5 L2242.5,1250.0 L2245.0,1250.5 L2247.6,1251.0 L2250.1,1251.5 L2252.6,1251.9 L2255.1,1252.4 L2257.6,1252.8 L2260.1,1253.2 L2262.6,1253.6 L2265.1,1254.1 L2267.6,1254.4 L2270.1,1254.8 L2272.6,1255.2 L2275.1,1255.6 L2277.7,1255.9 L2280.2,1256.3 L2282.7,1256.6 L2285.2,1256.9 L2287.7,1257.3 L2290.2,1257.6 L2292.7,1257.9 L2295.2,1258.2 L2297.7,1258.5 L2300.2,1258.8 L2302.7,1259.0 L2305.2,1259.3 L2307.7,1259.6 L2310.3,1259.8 L2312.8,1260.1 L2315.3,1260.3 L2317.8,1260.6 L2320.3,1260.8 L2322.8,1261.0 L2325.3,1261.3 L2327.8,1261.5 L2330.3,1261.7 L2332.8,1261.9 L2335.3,1262.1 L2337.8,1262.3 L2340.4,1262.5 L2342.9,1262.7 L2345.4,1262.9 L2347.9,1263.0 L2350.4,1263.2 L2352.9,1263.4 L2355.4,1263.6 L2357.9,1263.7 L2360.4,1263.9 L2362.9,1264.0 L2365.4,1264.2 L2367.9,1264.3 L2370.4,1264.5 L2373.0,1264.6 L2375.5,1264.8 L2378.0,1264.9 L2380.5,1265.0 L2383.0,1265.2 L2385.5,1265.3 L2388.0,1265.4 L2390.5,1265.5 L2393.0,1265.7 L2395.5,1265.8 L2398.0,1265.9 L2400.5,1266.0 L2403.1,1266.1 L2405.6,1266.2 L2408.1,1266.3 L2410.6,1266.4 L2413.1,1266.5 L2415.6,1266.6 L2418.1,1266.7 L2420.6,1266.8 L2423.1,1266.9 L2425.6,1267.0 L2428.1,1267.1 L2430.6,1267.2 L2433.1,1267.3 L2435.7,1267.3 L2438.2,1267.4 L2440.7,1267.5 L2443.2,1267.6" fill="none" stroke="#45105a" stroke-width="5.5" stroke-dasharray="15 9" stroke-linejoin="round"/>
</g>
<rect x="1791.1" y="740.0" width="652.4" height="531.7" fill="none" stroke="#000" stroke-width="4.5" stroke-linejoin="round"/>
<text x="1772.5" y="1286.1" font-size="46" font-weight="bold" font-style="normal" fill="#000" text-anchor="end" textLength="22.7" lengthAdjust="spacingAndGlyphs">0</text>
<text x="1772.5" y="1151.3" font-size="46" font-weight="bold" font-style="normal" fill="#000" text-anchor="end" textLength="45.3" lengthAdjust="spacingAndGlyphs">30</text>
<text x="1772.5" y="1016.5" font-size="46" font-weight="bold" font-style="normal" fill="#000" text-anchor="end" textLength="45.3" lengthAdjust="spacingAndGlyphs">60</text>
<text x="1772.5" y="881.7" font-size="46" font-weight="bold" font-style="normal" fill="#000" text-anchor="end" textLength="45.3" lengthAdjust="spacingAndGlyphs">90</text>
<text x="1841.3" y="1321.9" font-size="47" font-weight="bold" font-style="normal" fill="#000" text-anchor="middle" textLength="68.0" lengthAdjust="spacingAndGlyphs">500</text>
<text x="2092.1" y="1321.9" font-size="47" font-weight="bold" font-style="normal" fill="#000" text-anchor="middle" textLength="68.0" lengthAdjust="spacingAndGlyphs">550</text>
<text x="2342.9" y="1321.9" font-size="47" font-weight="bold" font-style="normal" fill="#000" text-anchor="middle" textLength="68.0" lengthAdjust="spacingAndGlyphs">600</text>
<line x1="2059.0" y1="767.6" x2="2116.0" y2="767.6" stroke="#45105a" stroke-width="6" stroke-dasharray="11 11" stroke-linecap="round"/>
<text x="2124.0" y="776.6" font-size="34" font-weight="bold" font-style="italic" fill="#000" textLength="43.7" lengthAdjust="spacingAndGlyphs">Flo</text>
<line x1="2058.0" y1="806.2" x2="2112.0" y2="806.2" stroke="#c0282c" stroke-width="5" stroke-dasharray="0.1 9" stroke-linecap="round"/>
<text x="2124.0" y="815.2" font-size="34" font-weight="bold" font-style="italic" fill="#000" textLength="303.0" lengthAdjust="spacingAndGlyphs">Flo-As-PBN (0.30 mM)</text>
<line x1="2058.0" y1="844.9" x2="2116.0" y2="844.9" stroke="#4a0c0c" stroke-width="6" stroke-linecap="round"/>
<text x="2124.0" y="853.9" font-size="34" font-weight="bold" font-style="italic" fill="#000" textLength="303.0" lengthAdjust="spacingAndGlyphs">Flo-As-PBN (0.34 mM)</text>
<line x1="2058.0" y1="883.5" x2="2116.0" y2="883.5" stroke="#1010d0" stroke-width="6" stroke-linecap="round"/>
<text x="2124.0" y="892.5" font-size="34" font-weight="bold" font-style="italic" fill="#000" textLength="303.0" lengthAdjust="spacingAndGlyphs">Flo-As-PBN (0.38 mM)</text>
<line x1="2058.0" y1="922.2" x2="2116.0" y2="922.2" stroke="#6414c8" stroke-width="6" stroke-linecap="round"/>
<text x="2124.0" y="931.2" font-size="34" font-weight="bold" font-style="italic" fill="#000" textLength="303.0" lengthAdjust="spacingAndGlyphs">Flo-As-PBN (0.42 mM)</text>
<line x1="2058.0" y1="960.8" x2="2116.0" y2="960.8" stroke="#e010e0" stroke-width="6" stroke-linecap="round"/>
<text x="2124.0" y="969.8" font-size="34" font-weight="bold" font-style="italic" fill="#000" textLength="303.0" lengthAdjust="spacingAndGlyphs">Flo-As-PBN (0.46 mM)</text>
<line x1="2058.0" y1="999.4" x2="2116.0" y2="999.4" stroke="#1e1e5a" stroke-width="6" stroke-linecap="round"/>
<text x="2124.0" y="1008.4" font-size="34" font-weight="bold" font-style="italic" fill="#000" textLength="303.0" lengthAdjust="spacingAndGlyphs">Flo-As-PBN (0.50 mM)</text>
<line x1="2058.0" y1="1038.1" x2="2116.0" y2="1038.1" stroke="#141414" stroke-width="6" stroke-linecap="round"/>
<text x="2124.0" y="1047.1" font-size="34" font-weight="bold" font-style="italic" fill="#000" textLength="303.0" lengthAdjust="spacingAndGlyphs">Flo-As-PBN (0.54 mM)</text>
<line x1="2058.0" y1="1076.7" x2="2116.0" y2="1076.7" stroke="#1c6e1c" stroke-width="6" stroke-dasharray="14 10 2 10"/>
<text x="2124.0" y="1085.7" font-size="34" font-weight="bold" font-style="italic" fill="#000" textLength="258.0" lengthAdjust="spacingAndGlyphs">Flo-PBN (0.30 mM)</text>
<rect x="2293.8" y="1140.6" width="126.7" height="96.7" fill="#ccfbcc" stroke="none" stroke-width="0"/>
<text x="2349.5" y="1211.1" font-size="66" font-weight="bold" font-style="normal" fill="#000" text-anchor="middle">C-I</text>
<text x="2044.9" y="1365.7" font-size="48" font-weight="bold" font-style="normal" fill="#000" textLength="119.0" lengthAdjust="spacingAndGlyphs">λ / nm</text>
<text transform="translate(1707,1159.5) rotate(-90)" font-size="50" font-weight="bold" textLength="352.7" lengthAdjust="spacingAndGlyphs">Emission Intensity</text>
<rect x="92.0" y="17.0" width="770.0" height="725.0" fill="#fcfcfc" stroke="none" stroke-width="0"/>
<polygon points="174.6,487.7 458.4,348.5 458.5,24.3 140.0,134.9" fill="#ffffff" stroke="none" stroke-width="0"/>
<polygon points="458.4,348.5 740.4,491.5 775.4,135.4 458.5,24.3" fill="#ffffff" stroke="none" stroke-width="0"/>
<polygon points="174.6,487.7 453.2,673.2 740.4,491.5 458.4,348.5" fill="#ffffff" stroke="none" stroke-width="0"/>
<polyline points="169.2,431.7 458.4,296.5 745.9,435.1" fill="none" stroke="#e4e4e4" stroke-width="1.6" stroke-dasharray="8 4"/>
<polyline points="163.4,373.5 458.5,242.6 751.7,376.4" fill="none" stroke="#e4e4e4" stroke-width="1.6" stroke-dasharray="8 4"/>
<polyline points="157.5,313.0 458.5,186.8 757.7,315.3" fill="none" stroke="#e4e4e4" stroke-width="1.6" stroke-dasharray="8 4"/>
<polyline points="151.3,249.9 458.5,129.0 764.0,251.6" fill="none" stroke="#e4e4e4" stroke-width="1.6" stroke-dasharray="8 4"/>
<polyline points="144.9,184.2 458.5,69.1 770.5,185.2" fill="none" stroke="#e4e4e4" stroke-width="1.6" stroke-dasharray="8 4"/>
<line x1="474.5" y1="356.7" x2="476.4" y2="30.5" stroke="#a8a8a8" stroke-width="2.2" stroke-dasharray="7 3"/>
<line x1="515.8" y1="377.6" x2="522.3" y2="46.6" stroke="#a8a8a8" stroke-width="2.2" stroke-dasharray="7 3"/>
<line x1="558.0" y1="399.0" x2="569.4" y2="63.2" stroke="#a8a8a8" stroke-width="2.2" stroke-dasharray="7 3"/>
<line x1="602.1" y1="421.4" x2="618.9" y2="80.5" stroke="#a8a8a8" stroke-width="2.2" stroke-dasharray="7 3"/>
<line x1="647.1" y1="444.2" x2="669.6" y2="98.3" stroke="#a8a8a8" stroke-width="2.2" stroke-dasharray="7 3"/>
<line x1="695.8" y1="468.9" x2="724.7" y2="117.6" stroke="#a8a8a8" stroke-width="2.2" stroke-dasharray="7 3"/>
<line x1="324.9" y1="414.0" x2="309.8" y2="76.0" stroke="#b0b0b0" stroke-width="2.2" stroke-dasharray="7 3"/>
<line x1="198.3" y1="494.2" x2="474.5" y2="356.7" stroke="#c4c4c4" stroke-width="2.6"/>
<line x1="238.6" y1="520.8" x2="515.8" y2="377.6" stroke="#c4c4c4" stroke-width="2.6"/>
<line x1="280.0" y1="548.2" x2="558.0" y2="399.0" stroke="#c4c4c4" stroke-width="2.6"/>
<line x1="323.5" y1="577.0" x2="602.1" y2="421.4" stroke="#c4c4c4" stroke-width="2.6"/>
<line x1="368.2" y1="606.5" x2="647.1" y2="444.2" stroke="#c4c4c4" stroke-width="2.6"/>
<line x1="416.7" y1="638.5" x2="695.8" y2="468.9" stroke="#c4c4c4" stroke-width="2.6"/>
<polyline points="174.6,487.7 140.0,134.9 458.5,24.3 775.4,135.4" fill="none" stroke="#7a7a7a" stroke-width="3" stroke-linejoin="round"/>
<line x1="458.4" y1="348.5" x2="458.5" y2="24.3" stroke="#7a7a7a" stroke-width="3"/>
<polyline points="458.4,348.5 174.6,487.7 453.2,673.2 740.4,491.5" fill="none" stroke="#000" stroke-width="4.2" stroke-linejoin="round"/>
<polygon points="199.7,146.8 231.6,161.7 254.2,482.9 225.1,464.5" fill="#880000" stroke="#6a0000" stroke-width="1"/>
<polygon points="231.6,161.7 452.4,79.8 452.8,382.7 254.2,482.9" fill="#9e3a3a" stroke="#8a2a2a" stroke-width="1"/>
<polygon points="199.7,146.8 419.8,67.5 452.4,79.8 231.6,161.7" fill="#680000" stroke="#3a0000" stroke-width="1.4" stroke-linejoin="round"/>
<polyline points="256.4,482.9 233.8,163.2 451.4,81.3" fill="none" stroke="#b85a5a" stroke-width="1.6"/>
<polygon points="245.7,200.4 278.8,216.5 295.4,509.1 265.0,489.8" fill="#880000" stroke="#6a0000" stroke-width="1"/>
<polygon points="278.8,216.5 498.1,128.6 494.6,404.7 295.4,509.1" fill="#9e3a3a" stroke="#8a2a2a" stroke-width="1"/>
<polygon points="245.7,200.4 464.4,115.4 498.1,128.6 278.8,216.5" fill="#680000" stroke="#3a0000" stroke-width="1.4" stroke-linejoin="round"/>
<polyline points="297.6,509.1 281.0,218.0 497.1,130.1" fill="none" stroke="#b85a5a" stroke-width="1.6"/>
<polygon points="292.4,258.2 326.7,275.5 337.7,536.0 306.0,515.8" fill="#880000" stroke="#6a0000" stroke-width="1"/>
<polygon points="326.7,275.5 544.2,181.3 537.5,427.2 337.7,536.0" fill="#9e3a3a" stroke="#8a2a2a" stroke-width="1"/>
<polygon points="292.4,258.2 509.4,167.1 544.2,181.3 326.7,275.5" fill="#680000" stroke="#3a0000" stroke-width="1.4" stroke-linejoin="round"/>
<polyline points="339.9,536.0 328.9,277.0 543.2,182.8" fill="none" stroke="#b85a5a" stroke-width="1.6"/>
<polygon points="339.5,295.3 375.4,313.7 382.1,564.2 349.0,543.1" fill="#880000" stroke="#6a0000" stroke-width="1"/>
<polygon points="375.4,313.7 592.4,214.2 582.3,450.7 382.1,564.2" fill="#9e3a3a" stroke="#8a2a2a" stroke-width="1"/>
<polygon points="339.5,295.3 556.2,199.1 592.4,214.2 375.4,313.7" fill="#680000" stroke="#3a0000" stroke-width="1.4" stroke-linejoin="round"/>
<polyline points="384.3,564.2 377.6,315.2 591.4,215.7" fill="none" stroke="#b85a5a" stroke-width="1.6"/>
<polygon points="387.5,332.5 425.1,351.9 427.7,593.1 393.0,571.1" fill="#880000" stroke="#6a0000" stroke-width="1"/>
<polygon points="425.1,351.9 641.5,247.0 628.0,474.8 427.7,593.1" fill="#9e3a3a" stroke="#8a2a2a" stroke-width="1"/>
<polygon points="387.5,332.5 603.7,231.1 641.5,247.0 425.1,351.9" fill="#680000" stroke="#3a0000" stroke-width="1.4" stroke-linejoin="round"/>
<polyline points="429.9,593.1 427.3,353.4 640.5,248.5" fill="none" stroke="#b85a5a" stroke-width="1.6"/>
<polygon points="439.5,386.7 478.8,407.5 477.2,624.5 440.8,601.4" fill="#880000" stroke="#6a0000" stroke-width="1"/>
<polygon points="478.8,407.5 693.3,295.6 677.5,500.8 477.2,624.5" fill="#9e3a3a" stroke="#8a2a2a" stroke-width="1"/>
<polygon points="439.5,386.7 654.1,278.7 693.3,295.6 478.8,407.5" fill="#680000" stroke="#3a0000" stroke-width="1.4" stroke-linejoin="round"/>
<polyline points="479.4,624.5 481.0,409.0 692.3,297.1" fill="none" stroke="#b85a5a" stroke-width="1.6"/>
<line x1="740.4" y1="491.5" x2="775.4" y2="135.4" stroke="#000" stroke-width="3.6"/>
<line x1="740.4" y1="491.5" x2="751.9" y2="497.4" stroke="#000" stroke-width="3.2"/>
<line x1="743.1" y1="463.6" x2="749.0" y2="466.5" stroke="#000" stroke-width="3.2"/>
<line x1="745.9" y1="435.1" x2="757.8" y2="440.8" stroke="#000" stroke-width="3.2"/>
<line x1="748.8" y1="406.0" x2="754.8" y2="408.8" stroke="#000" stroke-width="3.2"/>
<line x1="751.7" y1="376.4" x2="763.8" y2="381.9" stroke="#000" stroke-width="3.2"/>
<line x1="754.7" y1="346.1" x2="760.8" y2="348.8" stroke="#000" stroke-width="3.2"/>
<line x1="757.7" y1="315.3" x2="770.1" y2="320.6" stroke="#000" stroke-width="3.2"/>
<line x1="760.8" y1="283.7" x2="767.1" y2="286.3" stroke="#000" stroke-width="3.2"/>
<line x1="764.0" y1="251.6" x2="776.7" y2="256.7" stroke="#000" stroke-width="3.2"/>
<line x1="767.2" y1="218.7" x2="773.6" y2="221.2" stroke="#000" stroke-width="3.2"/>
<line x1="770.5" y1="185.2" x2="783.5" y2="190.0" stroke="#000" stroke-width="3.2"/>
<line x1="773.9" y1="150.9" x2="780.4" y2="153.3" stroke="#000" stroke-width="3.2"/>
<text transform="matrix(0.955,0.296,-0.09,0.996,774.0,513.0)" x="0" y="0" dy="15" font-size="44" font-weight="normal" stroke="#000" stroke-width="0.9" text-anchor="middle">0</text>
<text transform="matrix(0.955,0.296,-0.09,0.996,782.0,458.0)" x="0" y="0" dy="15" font-size="44" font-weight="normal" stroke="#000" stroke-width="0.9" text-anchor="middle">1</text>
<text transform="matrix(0.955,0.296,-0.09,0.996,787.0,398.0)" x="0" y="0" dy="15" font-size="44" font-weight="normal" stroke="#000" stroke-width="0.9" text-anchor="middle">2</text>
<text transform="matrix(0.955,0.296,-0.09,0.996,793.6,337.0)" x="0" y="0" dy="15" font-size="44" font-weight="normal" stroke="#000" stroke-width="0.9" text-anchor="middle">3</text>
<text transform="matrix(0.955,0.296,-0.09,0.996,800.6,275.5)" x="0" y="0" dy="15" font-size="44" font-weight="normal" stroke="#000" stroke-width="0.9" text-anchor="middle">4</text>
<text transform="matrix(0.955,0.296,-0.09,0.996,809.0,205.0)" x="0" y="0" dy="15" font-size="44" font-weight="normal" stroke="#000" stroke-width="0.9" text-anchor="middle">5</text>
<text transform="matrix(1,-0.3709,0,1,276.4,162.7)" x="0" y="0" font-size="40" font-weight="bold" fill="#fff" stroke="#3c0000" stroke-width="3" paint-order="stroke" stroke-linejoin="round">1.6 ppm</text>
<text transform="matrix(1,-0.4005,0,1,325.2,209.3)" x="0" y="0" font-size="40" font-weight="bold" fill="#fff" stroke="#3c0000" stroke-width="3" paint-order="stroke" stroke-linejoin="round">0.8 ppm</text>
<text transform="matrix(1,-0.4332,0,1,379.0,250.7)" x="0" y="0" font-size="40" font-weight="bold" fill="#fff" stroke="#3c0000" stroke-width="3" paint-order="stroke" stroke-linejoin="round">0.4 ppm</text>
<text transform="matrix(1,-0.4584,0,1,429.4,293.4)" x="0" y="0" font-size="40" font-weight="bold" fill="#fff" stroke="#3c0000" stroke-width="3" paint-order="stroke" stroke-linejoin="round">0.2 ppm</text>
<text transform="matrix(1,-0.4850,0,1,477.2,336.5)" x="0" y="0" font-size="40" font-weight="bold" fill="#fff" stroke="#3c0000" stroke-width="3" paint-order="stroke" stroke-linejoin="round">0.1 ppm</text>
<text transform="matrix(1,-0.5214,0,1,522.6,378.0)" x="0" y="0" font-size="40" font-weight="bold" fill="#fff" stroke="#3c0000" stroke-width="3" paint-order="stroke" stroke-linejoin="round">0.05 ppm</text>
<rect x="606.0" y="126.0" width="97.0" height="96.0" fill="#ccfbcc" stroke="none" stroke-width="0"/>
<text x="654.5" y="196.0" font-size="64" font-weight="bold" font-style="normal" fill="#000" text-anchor="middle">A</text>
<text transform="matrix(0.8167,0.5771,-1.1153,0.6281,93.5,494.6)" x="0" y="0" font-size="40" font-weight="bold" fill="#1010e0" stroke="#1010e0" stroke-width="0.7" textLength="406" lengthAdjust="spacingAndGlyphs">As (III) Concentration</text>
<text transform="matrix(0.1449,-0.9894,0.8626,0.3981,847.0,410.0)" x="0" y="0" font-size="46" font-weight="bold" fill="#1010e0" stroke="#1010e0" stroke-width="0.7" textLength="83" lengthAdjust="spacingAndGlyphs">I0 /I</text>
<rect x="870.0" y="22.0" width="762.0" height="720.0" fill="#fcfcfc" stroke="none" stroke-width="0"/>
<polygon points="967.7,499.5 1239.1,358.6 1238.0,31.4 934.8,141.7" fill="#ffffff" stroke="none" stroke-width="0"/>
<polygon points="1239.1,358.6 1507.0,503.0 1537.1,144.6 1238.0,31.4" fill="#ffffff" stroke="none" stroke-width="0"/>
<polygon points="967.7,499.5 1234.3,686.6 1507.0,503.0 1239.1,358.6" fill="#ffffff" stroke="none" stroke-width="0"/>
<polyline points="962.8,446.9 1238.9,309.9 1511.4,450.3" fill="none" stroke="#e4e4e4" stroke-width="1.6" stroke-dasharray="8 4"/>
<polyline points="957.8,392.4 1238.8,259.7 1516.0,395.7" fill="none" stroke="#e4e4e4" stroke-width="1.6" stroke-dasharray="8 4"/>
<polyline points="952.7,336.0 1238.6,208.0 1520.8,339.2" fill="none" stroke="#e4e4e4" stroke-width="1.6" stroke-dasharray="8 4"/>
<polyline points="947.3,277.5 1238.4,154.6 1525.7,280.6" fill="none" stroke="#e4e4e4" stroke-width="1.6" stroke-dasharray="8 4"/>
<polyline points="941.7,216.9 1238.2,99.5 1530.8,219.9" fill="none" stroke="#e4e4e4" stroke-width="1.6" stroke-dasharray="8 4"/>
<polyline points="936.0,154.1 1238.1,42.5 1536.1,156.9" fill="none" stroke="#e4e4e4" stroke-width="1.6" stroke-dasharray="8 4"/>
<line x1="1255.6" y1="367.5" x2="1256.2" y2="38.3" stroke="#a8a8a8" stroke-width="2.2" stroke-dasharray="7 3"/>
<line x1="1297.3" y1="389.9" x2="1302.3" y2="55.7" stroke="#a8a8a8" stroke-width="2.2" stroke-dasharray="7 3"/>
<line x1="1340.4" y1="413.2" x2="1350.1" y2="73.8" stroke="#a8a8a8" stroke-width="2.2" stroke-dasharray="7 3"/>
<line x1="1385.0" y1="437.2" x2="1399.9" y2="92.7" stroke="#a8a8a8" stroke-width="2.2" stroke-dasharray="7 3"/>
<line x1="1430.9" y1="461.9" x2="1451.3" y2="112.1" stroke="#a8a8a8" stroke-width="2.2" stroke-dasharray="7 3"/>
<line x1="1479.5" y1="488.1" x2="1506.0" y2="132.8" stroke="#a8a8a8" stroke-width="2.2" stroke-dasharray="7 3"/>
<line x1="1111.6" y1="424.8" x2="1096.6" y2="82.9" stroke="#b0b0b0" stroke-width="2.2" stroke-dasharray="7 3"/>
<line x1="991.5" y1="506.8" x2="1255.6" y2="367.5" stroke="#c4c4c4" stroke-width="2.6"/>
<line x1="1032.5" y1="535.4" x2="1297.3" y2="389.9" stroke="#c4c4c4" stroke-width="2.6"/>
<line x1="1075.1" y1="565.1" x2="1340.4" y2="413.2" stroke="#c4c4c4" stroke-width="2.6"/>
<line x1="1119.5" y1="596.0" x2="1385.0" y2="437.2" stroke="#c4c4c4" stroke-width="2.6"/>
<line x1="1165.4" y1="627.9" x2="1430.9" y2="461.9" stroke="#c4c4c4" stroke-width="2.6"/>
<line x1="1214.3" y1="662.0" x2="1479.5" y2="488.1" stroke="#c4c4c4" stroke-width="2.6"/>
<polyline points="967.7,499.5 934.8,141.7 1238.0,31.4 1537.1,144.6" fill="none" stroke="#7a7a7a" stroke-width="3" stroke-linejoin="round"/>
<line x1="1239.1" y1="358.6" x2="1238.0" y2="31.4" stroke="#7a7a7a" stroke-width="3"/>
<polyline points="1239.1,358.6 967.7,499.5 1234.3,686.6 1507.0,503.0" fill="none" stroke="#000" stroke-width="4.2" stroke-linejoin="round"/>
<polygon points="993.2,155.0 1026.1,171.4 1047.4,495.5 1017.2,475.3" fill="#880000" stroke="#6a0000" stroke-width="1"/>
<polygon points="1026.1,171.4 1236.2,89.3 1237.4,393.8 1047.4,495.5" fill="#9e3a3a" stroke="#8a2a2a" stroke-width="1"/>
<polygon points="993.2,155.0 1202.7,75.7 1236.2,89.3 1026.1,171.4" fill="#680000" stroke="#3a0000" stroke-width="1.4" stroke-linejoin="round"/>
<polyline points="1049.6,495.5 1028.3,172.9 1235.2,90.8" fill="none" stroke="#b85a5a" stroke-width="1.6"/>
<polygon points="1038.5,194.4 1072.9,211.9 1089.3,523.6 1057.8,502.5" fill="#880000" stroke="#6a0000" stroke-width="1"/>
<polygon points="1072.9,211.9 1282.5,124.6 1279.7,417.4 1089.3,523.6" fill="#9e3a3a" stroke="#8a2a2a" stroke-width="1"/>
<polygon points="1038.5,194.4 1247.7,110.1 1282.5,124.6 1072.9,211.9" fill="#680000" stroke="#3a0000" stroke-width="1.4" stroke-linejoin="round"/>
<polyline points="1091.5,523.6 1075.1,213.4 1281.5,126.1" fill="none" stroke="#b85a5a" stroke-width="1.6"/>
<polygon points="1086.1,252.0 1122.0,270.8 1132.9,552.7 1099.8,530.6" fill="#880000" stroke="#6a0000" stroke-width="1"/>
<polygon points="1122.0,270.8 1329.7,176.8 1323.5,441.8 1132.9,552.7" fill="#9e3a3a" stroke="#8a2a2a" stroke-width="1"/>
<polygon points="1086.1,252.0 1293.7,161.3 1329.7,176.8 1122.0,270.8" fill="#680000" stroke="#3a0000" stroke-width="1.4" stroke-linejoin="round"/>
<polyline points="1135.1,552.7 1124.2,272.3 1328.7,178.3" fill="none" stroke="#b85a5a" stroke-width="1.6"/>
<polygon points="1134.3,296.1 1171.7,316.1 1178.1,583.0 1143.6,559.9" fill="#880000" stroke="#6a0000" stroke-width="1"/>
<polygon points="1171.7,316.1 1378.5,216.1 1368.8,467.0 1178.1,583.0" fill="#9e3a3a" stroke="#8a2a2a" stroke-width="1"/>
<polygon points="1134.3,296.1 1340.9,199.7 1378.5,216.1 1171.7,316.1" fill="#680000" stroke="#3a0000" stroke-width="1.4" stroke-linejoin="round"/>
<polyline points="1180.3,583.0 1173.9,317.6 1377.5,217.6" fill="none" stroke="#b85a5a" stroke-width="1.6"/>
<polygon points="1184.0,357.8 1223.0,379.4 1224.9,614.3 1188.7,590.1" fill="#880000" stroke="#6a0000" stroke-width="1"/>
<polygon points="1223.0,379.4 1427.5,272.0 1415.6,493.0 1224.9,614.3" fill="#9e3a3a" stroke="#8a2a2a" stroke-width="1"/>
<polygon points="1184.0,357.8 1388.6,254.3 1427.5,272.0 1223.0,379.4" fill="#680000" stroke="#3a0000" stroke-width="1.4" stroke-linejoin="round"/>
<polyline points="1227.1,614.3 1225.2,380.9 1426.5,273.5" fill="none" stroke="#b85a5a" stroke-width="1.6"/>
<polygon points="1236.0,422.6 1276.6,445.8 1274.8,647.7 1236.8,622.3" fill="#880000" stroke="#6a0000" stroke-width="1"/>
<polygon points="1276.6,445.8 1478.6,330.5 1465.1,520.6 1274.8,647.7" fill="#9e3a3a" stroke="#8a2a2a" stroke-width="1"/>
<polygon points="1236.0,422.6 1438.3,311.6 1478.6,330.5 1276.6,445.8" fill="#680000" stroke="#3a0000" stroke-width="1.4" stroke-linejoin="round"/>
<polyline points="1277.0,647.7 1278.8,447.3 1477.6,332.0" fill="none" stroke="#b85a5a" stroke-width="1.6"/>
<line x1="1507.0" y1="503.0" x2="1537.1" y2="144.6" stroke="#000" stroke-width="3.6"/>
<line x1="1507.0" y1="503.0" x2="1518.0" y2="508.9" stroke="#000" stroke-width="3.2"/>
<line x1="1511.4" y1="450.3" x2="1517.0" y2="453.1" stroke="#000" stroke-width="3.2"/>
<line x1="1516.0" y1="395.7" x2="1527.4" y2="401.3" stroke="#000" stroke-width="3.2"/>
<line x1="1520.8" y1="339.2" x2="1526.6" y2="341.9" stroke="#000" stroke-width="3.2"/>
<line x1="1525.7" y1="280.6" x2="1537.5" y2="285.8" stroke="#000" stroke-width="3.2"/>
<line x1="1530.8" y1="219.9" x2="1536.8" y2="222.4" stroke="#000" stroke-width="3.2"/>
<line x1="1536.1" y1="156.9" x2="1548.4" y2="161.7" stroke="#000" stroke-width="3.2"/>
<text transform="matrix(0.955,0.296,-0.09,0.996,1538.0,525.0)" x="0" y="0" dy="15" font-size="44" font-weight="normal" stroke="#000" stroke-width="0.9" text-anchor="middle">0</text>
<text transform="matrix(0.955,0.296,-0.09,0.996,1550.0,417.5)" x="0" y="0" dy="15" font-size="44" font-weight="normal" stroke="#000" stroke-width="0.9" text-anchor="middle">1</text>
<text transform="matrix(0.955,0.296,-0.09,0.996,1562.8,304.3)" x="0" y="0" dy="15" font-size="44" font-weight="normal" stroke="#000" stroke-width="0.9" text-anchor="middle">2</text>
<text transform="matrix(0.955,0.296,-0.09,0.996,1572.0,175.4)" x="0" y="0" dy="15" font-size="44" font-weight="normal" stroke="#000" stroke-width="0.9" text-anchor="middle">3</text>
<text transform="matrix(1,-0.3910,0,1,1064.6,165.8)" x="0" y="0" font-size="38" font-weight="bold" fill="#fff" stroke="#3c0000" stroke-width="3" paint-order="stroke" stroke-linejoin="round">0.05 ppm</text>
<text transform="matrix(1,-0.4168,0,1,1118.9,207.2)" x="0" y="0" font-size="38" font-weight="bold" fill="#fff" stroke="#3c0000" stroke-width="3" paint-order="stroke" stroke-linejoin="round">0.1 ppm</text>
<text transform="matrix(1,-0.4525,0,1,1166.0,251.0)" x="0" y="0" font-size="38" font-weight="bold" fill="#fff" stroke="#3c0000" stroke-width="3" paint-order="stroke" stroke-linejoin="round">0.2 ppm</text>
<text transform="matrix(1,-0.4837,0,1,1215.6,305.8)" x="0" y="0" font-size="38" font-weight="bold" fill="#fff" stroke="#3c0000" stroke-width="3" paint-order="stroke" stroke-linejoin="round">0.4 ppm</text>
<text transform="matrix(1,-0.5251,0,1,1265.2,346.8)" x="0" y="0" font-size="38" font-weight="bold" fill="#fff" stroke="#3c0000" stroke-width="3" paint-order="stroke" stroke-linejoin="round">0.8 ppm</text>
<text transform="matrix(1,-0.5708,0,1,1318.0,419.7)" x="0" y="0" font-size="38" font-weight="bold" fill="#fff" stroke="#3c0000" stroke-width="3" paint-order="stroke" stroke-linejoin="round">1.6 ppm</text>
<rect x="1407.5" y="143.0" width="97.1" height="97.1" fill="#ccfbcc" stroke="none" stroke-width="0"/>
<text x="1455.0" y="214.2" font-size="64" font-weight="bold" font-style="normal" fill="#000" text-anchor="middle">B</text>
<text transform="matrix(0.8000,0.6000,-1.1327,0.6380,878.7,501.0)" x="0" y="0" font-size="38" font-weight="bold" fill="#1010e0" stroke="#1010e0" stroke-width="0.7" textLength="389" lengthAdjust="spacingAndGlyphs">As (III) Concentration</text>
<text transform="matrix(0.1302,-0.9915,0.9080,0.4191,1608.0,412.0)" x="0" y="0" font-size="44" font-weight="bold" fill="#1010e0" stroke="#1010e0" stroke-width="0.7" textLength="96" lengthAdjust="spacingAndGlyphs">I0 / I</text>
<line x1="1422.6" y1="135.5" x2="1493.8" y2="135.5" stroke="#fde2a8" stroke-width="6"/>
</svg>
</body></html>
